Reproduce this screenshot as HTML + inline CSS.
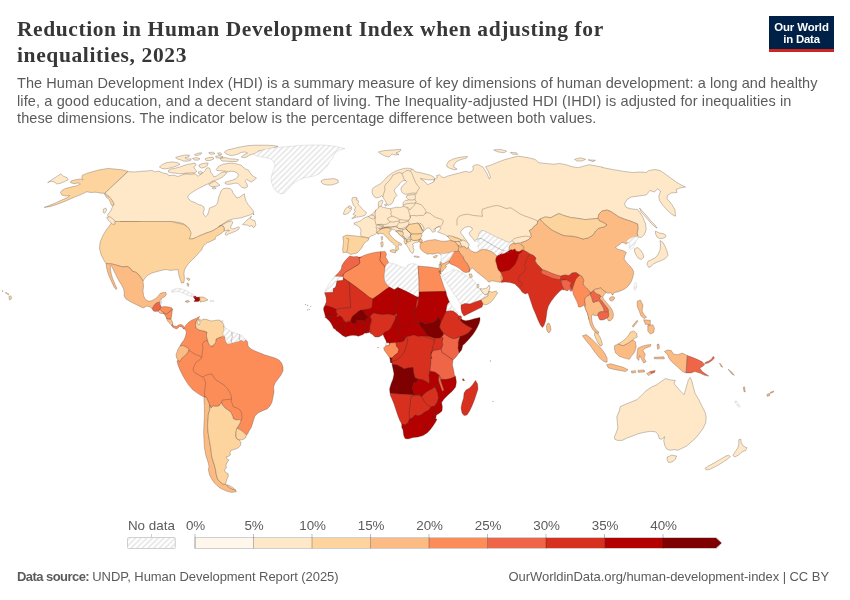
<!DOCTYPE html>
<html lang="en">
<head>
<meta charset="utf-8">
<title>Reduction in Human Development Index when adjusting for inequalities, 2023</title>
<style>
html,body{margin:0;padding:0;background:#fff;}
body{width:850px;height:600px;position:relative;overflow:hidden;font-family:"Liberation Sans",sans-serif;}
#title{position:absolute;left:17px;top:17px;margin:0;font-family:"Liberation Serif",serif;font-weight:bold;font-size:21.5px;line-height:25.5px;color:#373737;letter-spacing:0px;white-space:nowrap;}
#sub{position:absolute;left:17px;top:75px;margin:0;font-size:14.5px;line-height:17.64px;color:#5b5b5b;white-space:nowrap;}
#logo{position:absolute;left:769px;top:16px;width:65px;height:36px;padding-top:4.5px;box-sizing:border-box;background:#002147;color:#fff;text-align:center;font-weight:bold;font-size:11.4px;line-height:12.1px;white-space:nowrap;}
#logo .bar{position:absolute;left:0;bottom:0;width:100%;height:2.8px;background:#ce261e;}
#l1{letter-spacing:-0.1px}#l2{letter-spacing:-0.2px}
#map{position:absolute;left:0;top:0;width:850px;height:600px;}
.leg{position:absolute;width:80px;text-align:center;font-size:13.4px;color:#5b5b5b;top:518px;white-space:nowrap;}
#foot-l{position:absolute;left:17px;top:569px;font-size:13px;color:#5b5b5b;white-space:nowrap;}
#foot-r{position:absolute;right:21px;top:569px;font-size:13px;color:#5b5b5b;white-space:nowrap;}
#t1{letter-spacing:0.58px}#t2{letter-spacing:0.62px}
#s1{letter-spacing:0.073px}#s2{letter-spacing:0.119px}#s3{letter-spacing:0.107px}
#f1{letter-spacing:-0.55px}#f2{letter-spacing:-0.055px;margin-left:-0.5px}#f3{letter-spacing:-0.054px}
</style>
</head>
<body>
<svg id="map" width="850" height="600" viewBox="0 0 850 600">
<defs>
<pattern id="hatch" patternUnits="userSpaceOnUse" width="5.66" height="5.66">
<rect width="5.66" height="5.66" fill="#fff"/>
<path d="M-1,1L1,-1M-0.5,6.16L6.16,-0.5M4.66,6.66L6.66,4.66" stroke="#e2e2e2" stroke-width="1.35" fill="none"/>
</pattern>
</defs>
<!--MAPSTART-->
<g id="countries" stroke="#3f3028" stroke-opacity="0.55" stroke-width="0.5" stroke-linejoin="round">
<path d="M349.7,256L353.3,256.8L357.5,256.4L363.2,255.7L368.1,254L373.1,252.8L377.3,252.1L380.9,251.7L385.1,251.4L386.6,254.3L385.6,257.1L387.3,259.9L388.7,262.8L392.9,263.5L397.2,264.9L401.4,267L405.7,268.4L407.8,264.9L412.1,263.5L416.3,264.2L418.1,266.3L422.7,266.7L428.3,267.3L434,268.1L424,266.6L430,267L436,268L440,268.6L441,274L439.6,272L439,271L440,275L442,281L444,287L446,291.4L446.6,295L447.9,298.3L449.2,301.7L449.6,302.1L450.8,304.2L452.5,306.7L454.6,309.2L456.7,311.7L458.8,313.8L460.4,315.8L461.7,317.1L461.2,318.8L462.9,320L465.8,320.8L470,320L474.2,318.8L477.5,317.9L480,317.5L480,320L479.2,323.3L477.5,327.1L475.4,330.8L472.9,334.6L470,337.9L467.1,341.2L464.2,344.2L462.9,345L461.6,350L459,353L456,357L453,360L452.4,365L453.6,370L454.4,375L453.6,364L453,369L454.4,374L455.6,376.4L456.4,382L455.6,387L452.4,391L448,395L444,399L441.6,402.4L442.4,407L442,411L439,413.6L436.4,415L435.6,419L437,419L435.6,422L433,426L430,430L427,433L423,435.6L418,437L413,437.6L408,439L405,438.4L403.6,435L403,430L401.6,427L400,421L398,416L396,410L394,404L392,399L390.4,395.6L390,393L389.6,389L391,384L393,379L394,374L393,369L392,364.4L390,359L392.4,360.6L389,357L387,354L384.4,350.6L383.6,348L385.6,346L385.6,343L385.6,340L383.6,336L383,334L382,335L379,337L375,337L372.4,334.6L370,333L367.6,334L369.1,332.1L365.9,333.2L363.1,334.6L360.3,335.6L358.2,336.3L356.4,335.6L353.2,335.3L350.4,335.6L347.6,336.3L345.5,337.1L342.6,335.6L340.2,333.5L337.7,331.4L335.6,329.6L333.5,328.2L332.4,325.8L331,323.3L329.6,321.2L327.8,319.4L325.7,317.6L323.5,309.5L323.8,307.4L324.9,305.5L326.3,301.7L326.1,297.5L325.2,294.6L324.6,292.8L325.6,289.7L327.8,286.1L329.9,282.6L332,279.8L334.8,276.6L336.3,274.8L338.8,272.4L341.2,269.1L341.9,265.6L344,262L346.9,258.8Z" fill="#d7301f" stroke="#fff" stroke-opacity="1" stroke-width="1.4"/>
<path d="M771.3,393.3L770.8,392.4L768.9,393.3L769.3,394.2Z" fill="#fdbb84" stroke="none"/>
<path d="M420.7,244.2L421.9,243.1L422.4,241.6L419.6,242.7Z" fill="#fdbb84" stroke="none"/>
<path d="M368.9,332L368,332.9L370.2,332.3L370.2,327L372.3,318.9L370.6,317.3L371,319.8L370.6,322.5L369.6,325.4Z" fill="#d7301f" stroke="none"/>
<path d="M383.4,334.4L383.1,333.5L381,335.7L381.2,335.9Z" fill="#d7301f" stroke="none"/>
<path d="M387.1,343.2L388.8,343.2L388.8,346.5L389,346.6L389.8,343.2L391,343.2L391,342.9L386.6,342.3Z" fill="#b30000" stroke="none"/>
<path d="M385.4,346.3L390.1,345.4L390.1,345.2L385.4,345.2Z" fill="#fc8d59" stroke="none"/>
<path d="M389.8,359.3L391.4,359.8L391.7,363.2L392.3,363.4L392.6,360.6L392.2,357.8L389.5,356.9Z" fill="#7f0000" stroke="none"/>
<path d="M449.2,301.1L447.6,304.3L447.7,304.3L449.7,302.3Z" fill="#b30000" stroke="none"/>
<path d="M439.9,273.2L441.6,275.8L441.2,273.8L438.6,269.9L439.4,273.5Z" fill="#fc8d59" stroke="none"/>
<path d="M469.2,272.2L469.5,271.6L470,268.9L467.8,272.4Z" fill="#fc8d59" stroke="none"/>
<path d="M498.9,282.3L501.2,282.6L503.3,279L502.2,274.9L501.4,273.4L500.7,277.2L501.4,280.6Z" fill="#fdbb84" stroke="none"/>
<path d="M565.6,290.5L562.6,285.9L562.4,286L563.7,289.8Z" fill="#ef6548" stroke="none"/>
<path d="M572.1,290.2L572.3,290.9L574.9,282.3L574.7,282.3L573.8,283.9L571.4,291.1L571.6,291.1Z" fill="#fc8d59" stroke="none"/>
<path d="M599.5,346.5L599.1,346.7L599.6,347.3L601.4,346L597.3,342Z" fill="#fdd49e" stroke="none"/>
<path d="M386.6,203.8L385.9,204L386.7,205.8L388.2,204.9L386.2,202.7L386,202.9Z" fill="#fee8c8" stroke="none"/>
<path d="M406.3,196L408.4,195.4L414.2,194.8L416.8,193.8L415.1,192.7L411.6,192.9L408.3,193.5L406.9,193.8Z" fill="#fee8c8" stroke="none"/>
<path d="M498.4,255.9L502.9,254.1L502.8,253.7L501,254.3L503.4,252.1L503.2,251.9L499.4,254.3L496.5,255.8L496,258.3Z" fill="#b30000" stroke="none"/>
<path d="M508.4,251.8L505.3,252.8L505.4,253.2L510.4,251.9L513.4,249.9L511.6,249.3L509.3,250.1L506.5,251.4Z" fill="#b30000" stroke="none"/>
<path d="M477.2,252.2L478.4,251.7L481.3,250L481.1,249.6L478.2,251.1Z" fill="#fdbb84" stroke="none"/>
<path d="M420.3,238.4L418.9,239.8L421.7,239.1L420.5,237.9Z" fill="#fdbb84" stroke="none"/>
<path d="M424.9,335.9L420.9,335.7L420.8,336L427.1,337.5L427.2,337.2L424.8,336.2Z" fill="#d7301f" stroke="none"/>
<path d="M433.3,338.7L433.9,344.2L434,344.2L435.1,338.9Z" fill="#d7301f" stroke="none"/>
<path d="M421.4,178.4L419.6,178.1L421.5,179.8L424.3,181.2L424.4,181Z" fill="#fee8c8" stroke="none"/>
<path d="M415.6,309L416.3,304.8L416.2,304.8L413.9,309.4L413.2,313.1L414.1,315.7L415.2,310.1L415.8,309.1Z" fill="#b30000" stroke="none"/>
<path d="M419.1,298L419.4,295.9L419.4,295.9L418.2,297.9Z" fill="#b30000" stroke="none"/>
<path d="M393.6,314.9L395.4,314.4L390.8,313.5L380.6,314.3L380.6,314.6L383,314.8L388,314.2L394.1,315.5L394.2,315.1Z" fill="#b30000" stroke="none"/>
<path d="M395.6,315.6L397.7,321L396.8,325L397.8,329.4L398.2,329.3L397.4,324.4L398.8,320.8L397.7,317.7L397.5,316.2Z" fill="#b30000" stroke="none"/>
<path d="M336.5,312.3L336.5,309.4L335.7,309L335.3,310.6L335.7,313.1L336.8,316.4L336.9,314.2L338.5,315.3Z" fill="#b30000" stroke="none"/>
<path d="M339.9,316.2L337.9,316.7L342.4,317.3L339.6,315.5L339.3,315.9Z" fill="#b30000" stroke="none"/>
<path d="M476.4,284.6L476.8,285.1L477.4,288.4L477.9,288.3L477.2,284.3Z" fill="#fee8c8" stroke="none"/>
<path d="M470.9,277L469.7,277.2L469.9,278L472.9,279.2Z" fill="#fdd49e" stroke="none"/>
<path d="M395.8,250.3L395.2,252.4L397,251L396.8,250.7Z" fill="#fdd49e" stroke="none"/>
<path d="M647.6,326.2L650.5,325.5L650.5,324.5L647.6,324.2Z" fill="#fdbb84" stroke="none"/>
<path d="M463.6,380.8L464,380.4L464.6,381.1L464.2,379.7L462.9,380.1Z" fill="#d7301f" stroke="none"/>
<path d="M253.9,154.3L257.1,152.7L257,152.4L253.4,153.6Z" fill="#fee8c8" stroke="none"/>
<path d="M277.2,146.4L272.4,148L272.5,148.2L277.4,147.6Z" fill="#fee8c8" stroke="none"/>
<path d="M161.6,311.3L163.4,313.9L164.4,313.9L166.7,314.7L164.5,312.8Z" fill="#fc8d59" stroke="none"/>
<path d="M166.2,318.3L168.3,319.4L171.4,319.4L171.3,318.8L168.5,318.8L166.6,317.4L165.7,316.2Z" fill="#fc8d59" stroke="none"/>
<path d="M172.6,324L171.3,325.6L172.6,327.3Z" fill="#fc8d59" stroke="none"/>
<path d="M241.1,440.1L236.8,438.7L236.7,438.9L239,440.4Z" fill="#fdd49e" stroke="none"/>
<path d="M223.5,326.1L223.3,327.2L225.2,327.2Z" fill="#fdd49e" stroke="none"/>
<path d="M161.2,304.2L159.9,304.2L159.7,305.1L160.3,305.7Z" fill="#ef6548" stroke="none"/>
<path d="M161.6,298.1L159.7,300.5L161.9,299.8Z" fill="#fdbb84" stroke="none"/>
<path d="M227.7,230.8L226.5,231.8L230.2,230.5L228,229.7L224.3,230.9L224.4,231.2Z" fill="#fee8c8" stroke="none"/>
<path d="M230.1,219.6L225.9,221.6L217.5,227.2L217.7,227.5L226.6,222.7L229.1,221.7L232.1,221.1Z" fill="#fee8c8" stroke="none"/>
<path d="M252.7,214.1L253.1,213.2L249.9,214.8L250.1,215.1Z" fill="#fee8c8" stroke="none"/>
<path d="M208.8,185.1L212,182.7L215.5,181.3L214.1,180.3L213.7,180.4L207.2,183.9Z" fill="#fee8c8" stroke="none"/>
<path d="M224.7,171.5L223.6,171.8L226.9,173.1L228.1,171.6L225.7,171L221.5,170.7L221.5,171.1Z" fill="#fee8c8" stroke="none"/>
<path d="M200.4,174.2L199.6,174.8L199.8,175.2L203.4,172.8L202.4,172.2L200,174.2Z" fill="#fee8c8" stroke="none"/>
<path d="M184.7,173.6L180.7,175.2L180.8,175.5L186.3,174L190.6,174.6L195.6,173.9L194.8,173.2L195.7,172.5L191.2,172.5L181.8,173.3L181.8,173.8Z" fill="#fee8c8" stroke="none"/>
<path d="M127.4,171.3L112.9,185.3L113.2,185.7L128.6,171.4Z" fill="#fee8c8" stroke="none"/>
<path d="M220,157.9L219.2,157.8L219.9,158.8L225.6,157.6L223,156.6Z" fill="#fee8c8" stroke="none"/>
<path d="M218.4,154.7L219.4,156L220.9,155.7Z" fill="#fee8c8" stroke="none"/>
<path d="M171.5,167.4L168.8,168.3L168.9,168.5L171.7,168.1Z" fill="#fee8c8" stroke="none"/>
<path d="M193.8,297.9L194.1,297.8L197.3,297.5L195,295.7L193.2,295.9Z" fill="#b30000" stroke="none"/>
<path d="M194.4,300.4L197.9,299.4L195.5,298.8Z" fill="#b30000" stroke="none"/>
<path d="M6.6,293L6.4,293.7L7.8,294.1L7.9,293.4Z" fill="#fdd49e" stroke="none"/>
<path d="M637.9,235.8L635.5,236.6L635.6,236.9L638.1,236.5Z" fill="#fdbb84" stroke="none"/>
<path d="M589.7,292.3L590.3,294.8L592.2,291.7Z" fill="#ef6548" stroke="none"/>
<path d="M578.5,276.6L579.6,275.7L582.6,276.9L582.7,276.6L579.5,274.7Z" fill="#fdbb84" stroke="none"/>
<path d="M543.2,270.3L547,271.5L547.2,271.2L545.1,270.2L542.3,269.3L541.3,271L541.6,271.4Z" fill="#ef6548" stroke="none"/>
<path d="M523.3,250.5L526.9,252.2L527.1,251.8L523.4,249.9Z" fill="#d7301f" stroke="none"/>
<path d="M520.5,243.4L520.2,243.6L523.5,247.4L523.9,246.7Z" fill="#fdbb84" stroke="none"/>
<path d="M521.8,242.2L517,243.2L521.2,244.5Z" fill="#fee8c8" stroke="none"/>
<path d="M514.7,249.4L516.1,251.5L518,251.8L518.1,251.4L516.7,251.1L515.5,249Z" fill="#fdbb84" stroke="none"/>
<path d="M513.7,241.4L511.8,243.8L515.6,244.2Z" fill="#fdbb84" stroke="none"/>
<path d="M460.1,239.3L461.1,241.1L463.5,240.2Z" fill="#fee8c8" stroke="none"/>
<path d="M459.4,316.3L457,313.7L456.7,314L458.7,316.5Z" fill="#d7301f" stroke="none"/>
<path d="M453,236.7L452.9,236.9L454.9,237.7L458.8,238.8L458.9,238.4L454.2,236.9Z" fill="#fee8c8" stroke="none"/>
<path d="M446.1,311L445.4,312.5L449.5,311.1L449.5,311Z" fill="#d7301f" stroke="none"/>
<path d="M438.5,373.9L440.3,379.7L441,379.8L447.1,379.8L447.1,379.5L442.1,378.8Z" fill="#ef6548" stroke="none"/>
<path d="M442.3,345L440.4,349.9L440.7,350L443.3,345L442,340.5L441.7,340.6Z" fill="#ef6548" stroke="none"/>
<path d="M440.7,264L440.2,264.1L440.7,267.4L442.8,263.7L441.4,262Z" fill="#fdbb84" stroke="none"/>
<path d="M439.3,374.9L438.2,374.1L438.7,378.2L438.9,378.2Z" fill="#b30000" stroke="none"/>
<path d="M431.8,352L432.9,351.5L433.9,350.7L432.3,345.8Z" fill="#d7301f" stroke="none"/>
<path d="M421.6,397.3L424.8,393.4L419.5,395.5Z" fill="#b30000" stroke="none"/>
<path d="M416,320.1L415.9,320.2L419.8,323.9L420,323.7L417.2,319.9L413.9,314.4L413.7,314.4L414.7,317.4Z" fill="#b30000" stroke="none"/>
<path d="M418.1,269.8L418.8,288.5L419.2,288.5L419.2,279L418.5,269.8Z" fill="#fc8d59" stroke="none"/>
<path d="M416.4,395L413.2,392.4L413.8,395.3Z" fill="#b30000" stroke="none"/>
<path d="M404,339.6L401.4,337L401.2,337.2L404,341.5L406.7,336.1L406.4,336Z" fill="#b30000" stroke="none"/>
<path d="M397.8,329.3L399.4,328.8L397.6,328.3Z" fill="#b30000" stroke="none"/>
<path d="M385.4,266.9L383.6,264.5L385.2,270.3L385.4,270.3Z" fill="#fc8d59" stroke="none"/>
<path d="M362.9,310.4L365.4,315L367.2,316.8L370.9,317.5L370.3,317L371.2,315.2L374,313.3L378,314.2L382.3,314.8L382.4,314.4L377.4,313.2L373.7,312.1L371.5,314.3L369.5,315.6L367.6,314.3L365.5,312.2L364,309.5L361.7,310.2Z" fill="#b30000" stroke="none"/>
<path d="M345.9,321.7L344.7,320.4L342.8,317.6L341,316.3L342.4,318.8L343.3,321L345.8,322.9L350.3,321.4L351.6,322.7L351,320.5L351.4,319.3Z" fill="#d7301f" stroke="none"/>
<path d="M341.1,276L337.2,276.6L337.2,276.8L343.6,277.2L343.6,274.3Z" fill="#ef6548" stroke="none"/>
<path d="M343.6,275.9L343.2,275.9L342.8,281.1L343.2,281.2Z" fill="#d7301f" stroke="none"/>
<path d="M339.4,326.5L338.8,324.6L337.5,328.4Z" fill="#b30000" stroke="none"/>
<path d="M324.6,317.7L324.7,318.1L327.8,317.5L331,318L329.3,316.3Z" fill="#b30000" stroke="none"/>
<path d="M263.6,150.2L263.5,149.8L257.8,150.8L257.2,152.7L260.1,151.2Z" fill="#fee8c8" stroke="none"/>
<path d="M236.2,436.4L236.2,431L235.9,430.9L235.4,436L236.2,438.6L237.4,439.3Z" fill="#fdd49e" stroke="none"/>
<path d="M214.3,344.4L210.7,346.3L212.5,347.3Z" fill="#fc8d59" stroke="none"/>
<path d="M183.7,224.7L188.1,227.8L187.2,226.2L184.1,223.8L179,222.2L171.2,221.6L171.2,221.7L176.9,223.2Z" fill="#fee8c8" stroke="none"/>
<path d="M173.4,309.2L173.1,308.9L169.9,310.8L167.5,313.2L167.7,313.4Z" fill="#fc8d59" stroke="none"/>
<path d="M166.4,314.7L168.8,312.6L168.5,312.3L165.6,314.4Z" fill="#fc8d59" stroke="none"/>
<path d="M160.6,298.9L160.3,298.9L159.7,302.6L160.6,302.6Z" fill="#fdbb84" stroke="none"/>
<path d="M157.1,311.6L157.3,311.8L160,309.7L160.9,310.7L160.1,308.6Z" fill="#ef6548" stroke="none"/>
<path d="M127.8,171.3L122.1,169.8L115,169.1L107.9,168.4L100.8,169.6L93.8,171.3L86.7,173.4L82.4,175.2L81.7,177.6L83.1,179.8L80.3,179L75.3,179.8L71.1,180.9L70.4,182.6L73.9,183.7L78.9,182.9L80.3,184L76.8,185.7L71.1,187.1L65.4,188.5L61.9,190.4L60.5,192.5L61.9,195.1L65.4,196L69.7,195.6L67.5,197.5L62.6,199.6L56.9,202.4L49.8,205.3L44.2,207.4L49.8,206.7L56.9,204.5L64,201.7L70.4,198.9L75.3,196.8L81,194.6L86.7,191.8L90.9,192.5L95.9,192.2L100.8,193.2L104.4,193.2L107.2,196L110.8,196.8L112.2,199.6L114.3,203.8L112.2,206L110.8,203.8L109.3,199.6L106.5,197.5L104.4,193.9Z" fill="#fdd49e"/>
<path d="M47.7,182.6L51.3,180L56.2,176.9L60.9,173.8L63.3,176.2L67.1,177.6L68.3,179.8L64.7,181.5L60.5,183.3L56.9,184L54.1,181.9L51.3,181.2Z" fill="#fee8c8"/>
<path d="M128,171.6L134,172L140,171.4L146,171L152,170.4L155,171.9L158.8,171.2L162.5,172.8L167.5,174L168.8,175.6L173.8,175.2L178.1,176.5L181.9,175L186.2,173.8L190.6,174.4L195,173.8L198.1,176.2L200.6,174.4L203.1,172.8L205,170.6L206.2,168.5L208.1,167.5L210,168.8L210.6,171.9L212.5,174.4L213.8,176.9L216.2,176.2L218.8,174.4L221.2,172.8L224.4,171.9L226.9,172.8L225,175L222.5,176.9L219.4,178.8L216.2,180L213.8,180.6L211.2,181.9L208.1,183.8L205,185.2L201.2,187.2L197.5,189L193.8,191.2L190.6,193.5L188.1,195.6L187.8,197.5L189.4,199.8L191.2,201.2L195,202.5L198.1,204.4L201.2,205.2L203.8,206.9L204.4,209.4L203.1,212.5L203.8,215L205.6,216.5L207.5,215L208.8,211.2L209.4,208.1L212.5,206.9L215.6,205.6L217.5,203.1L218.1,200L218.8,196.9L220,193.8L221.2,190.6L223.1,188.8L226.2,188.1L230,188.5L231.9,190L233.1,193.1L235,195.6L236.9,198.1L240,196.9L242.5,195L244.4,193.8L245,197.5L246,201.2L248.1,204.4L250.6,207.5L253.1,210.6L253.8,215L253,213.5L251,214.5L248.5,215.5L246,216.2L243,217.2L240,218L237,218.5L234,218.8L231,219.5L228.5,220.5L226,221.8L224,223.2L222,224.5L220,225.8L218.5,226.8L221.5,225.2L224,224L226.5,222.5L229,221.5L231.5,221L232.8,222L232.2,224L231,226L230.5,228L232,229L234.5,228.5L236.5,227.8L238.5,226.8L239.5,227.5L238.5,229.5L236,231L233.5,232L231,233L228.5,234L226.5,235.2L225.2,234.5L225.8,232.5L227.5,231.2L229.5,230.5L228,230L225.5,230.8L224,231L224.2,228.5L223.5,226.5L221.5,225.5L220,226.2L218.5,227.2L216.5,228.5L214,230L211,231.5L208,232.5L205,233.5L202.5,234.8L200,235.5L198,237L194,238.4L190,239.4L189,238L190,234L189,230L187,226.4L184,224L179,222.4L173,221.8L172,221.8L120,221.8L140,222.2L112.5,222.2L111.2,220.5L108.8,218L107.5,215L109.5,212.5L111.2,210L112.5,206.5L114.2,204.5L112.8,201.2L110.2,197.8L107.5,194.8L105,193Z" fill="#fee8c8"/>
<path d="M242.5,224.5L244.5,222.5L247,220L249.5,218L251.5,216.2L250.5,218.5L252,220L254.5,220.5L255.5,222.5L255.8,224.5L254.5,227L253,227.5L252,225.5L250.5,226L249,226.5L247.5,225L245,225Z" fill="#fee8c8"/>
<path d="M159.4,166.9L162.5,164.4L166.9,162.5L172.5,161.9L178.1,162.8L180,164.4L177.5,165.6L173.8,166.9L170,168.1L165.6,168.8L161.9,168.5Z" fill="#fee8c8"/>
<path d="M168.1,170.6L171.2,169L175.6,168.1L180,166.9L183.8,165.6L187.5,164.4L191.2,163.8L195,163.1L196.2,165L193.8,166.9L195,169.4L196.9,171.2L195,172.8L191.2,172.8L186.9,173.1L182.5,173.5L178.8,173.8L175,173.1L171.2,172.8L168.8,172.2Z" fill="#fee8c8"/>
<path d="M198.8,165L201.9,163.8L205,163.1L208.1,163.1L207.5,165.6L205,167.2L201.9,168.1L199.4,166.9Z" fill="#fee8c8"/>
<path d="M198.1,172.2L200.6,171.2L202.5,172.5L200.6,174L198.8,173.8Z" fill="#fee8c8"/>
<path d="M175.6,157.5L179.4,156.2L184.4,155.2L189.4,155L188.8,156.9L185,157.8L186.9,159L191.2,158.8L190.6,160.6L186.9,161.2L183.1,161L180.6,159.8L177.5,159Z" fill="#fee8c8"/>
<path d="M194.4,154.8L198.1,153.1L201.9,152.8L200.6,154.4L196.9,155.6Z" fill="#fee8c8"/>
<path d="M192.5,158.5L196.2,157.5L200,158.8L198.1,160.2L194.4,160Z" fill="#fee8c8"/>
<path d="M208.8,152.5L212.5,152.2L215,153.5L211.9,154.4L209.4,153.8Z" fill="#fee8c8"/>
<path d="M205,158.8L208.8,157.5L213.1,157.2L213.8,159L210,160.6L206.2,160.6Z" fill="#fee8c8"/>
<path d="M215.6,156.2L220,155.6L223.1,156.9L220,158.1L216.2,157.8Z" fill="#fee8c8"/>
<path d="M217.5,153.1L220.6,152.8L221.9,154.4L218.8,154.8Z" fill="#fee8c8"/>
<path d="M220,158.5L225,157.5L230,158.8L235,159L238.8,159.8L236.9,161.5L231.2,161.5L226.2,161.2L221.9,161Z" fill="#fee8c8"/>
<path d="M224.4,151.9L227.5,150L232.5,148.8L236.2,147.8L242.5,146.5L248.8,145.6L255,145.2L261,145.2L267.5,145.2L273.8,145.6L278,146.4L272,148.4L264,150L258,151L257.5,152.5L253.8,153.8L250,155L246.9,156.9L243.8,157.8L241.2,156.9L243.8,155L247.5,153.1L245,151.9L241.2,152.5L238.1,154L235,155L231.2,155.6L228.1,154.8L225.6,153.5Z" fill="#fee8c8"/>
<path d="M216.2,169.4L218.8,166.2L222.5,164.4L226.9,163.5L231.2,163.1L235,163.5L238.1,164.4L241.2,165.2L243.1,167.2L245.6,169L248.5,170.2L250.2,173.1L252.8,176L256.5,178.1L254,180.2L251.2,182L248.5,180.6L246.9,179.4L245.2,181.2L247,184L247.5,186.8L245,188.2L241.9,187.5L239.8,185.2L237.8,183.5L235,183.1L231.5,184L228.1,184.4L225.2,183.8L225.2,182.2L228.8,181.2L232.2,180.2L235.2,179L237.5,177.2L238.5,174.8L236.9,172.8L234,171.5L230.6,171.2L228.1,171.9L225.6,171.2L222.5,171L219.4,170.6L216.9,170.6Z" fill="#fee8c8"/>
<path d="M208.8,184.8L211.9,182.5L215,181.2L217.5,183.1L220,185.2L217.5,186.2L214.4,186.5L211.2,186.5Z" fill="#fee8c8"/>
<path d="M211.9,188.1L214.4,187.2L216.2,188.1L213.8,189Z" fill="#fee8c8"/>
<path d="M112.5,221.5L140,221.5L171.2,221.5L177,223L183.8,224.5L188.8,228L191.2,233L189.5,239L193,238.8L200,235.5L202.5,234.8L205,233.5L208,232.5L211,231.5L214,230L216.5,228.5L218.5,227.2L220,226.2L221.5,225.5L223.5,226.5L224.2,228.5L224,231L222.5,232.5L220.5,234L218.5,235.2L216.5,236.2L215,237.5L215.5,239L213.5,240L211.5,241L209.5,242L207.5,242.5L205.5,244L204,245.5L202.5,247.5L201.5,250L200,251.6L197,255L193,259L189,263L186,267L184.4,270L184,273.6L184.4,278L184,282.4L181.6,283.2L180.4,280L179.2,276.4L178.4,272.4L178,269.6L174,270L170,270.4L167,269.6L163,270L157,271.6L152,273L148,275L145,278L143,281L141,278L139,275L136,272.4L132,271L130,268L127,266.4L123,267L118,265.6L112,264L106,263.6L103.8,260L101.2,255L99.5,248.8L100,242.5L102.5,236.2L106.2,230L110,225Z" fill="#fdd49e"/>
<path d="M106,263.6L106.6,268L107.6,272L109,276L110.8,280L112.6,284L114.4,287.6L116,289.6L116.8,288.4L115.6,285.6L114,282L112.6,278.4L111.4,274.4L110.6,270.4L110.4,267L111.4,265.6L113,269L115,273L117,277L119,281L121.6,285L123.6,289L124.4,293L124,296L126,299L130,301.6L135,304L140,306.4L143,308L147,306L150,307L152.4,309L153.6,306L156,303.6L158,302.4L160,302.4L160.4,300L162,298L164.4,297L166.4,294.4L166,292.4L163,292.4L160,293.6L158,296.4L155,299L151,301L148,301L145,299L143.6,295.6L143,291L143.6,286L143,281L141,278L139,275L136,272.4L132,271L130,268L127,266.4L123,267L118,265.6L112,264Z" fill="#fdbb84"/>
<path d="M152.4,309L153.6,306L155.6,303.6L158,302.4L160.4,302.4L160,305L161.6,307L160,309L158,311L155,311.6L153,310.6Z" fill="#ef6548"/>
<path d="M160.4,300L161.6,299.6L162,302.4L160.8,304.4L160,304.4L160.4,302.4Z" fill="url(#hatch)" stroke="#c4c4c4" stroke-opacity="1" stroke-width="0.4"/>
<path d="M161.6,307L165,306.6L169,307L172,308L172.4,309.6L170,311L168,313L166,314.4L164.4,313L162.4,312L160.4,310L160,309Z" fill="#fc8d59"/>
<path d="M158,311L160,309.4L162.4,312L163.6,313.6L161,313.6L159,312.4Z" fill="#fdbb84"/>
<path d="M164.4,313.6L166.4,314.4L168.4,312.6L170.4,311L172.4,309.6L172,313L171.6,316.4L171,319L168.4,319L166.4,317.6L165,315.6Z" fill="#fc8d59"/>
<path d="M166.4,318L168.4,319.2L171,319.2L172.4,321.6L173,324L171.6,325.6L170,323.6L168.4,322L167,320Z" fill="#fdbb84"/>
<path d="M172.4,324.4L174,326L176.4,326.4L178.4,325L181,324.4L183,325.6L184.4,327.6L183.6,329L182,327L179.6,326.4L178,328L176.4,329L174.4,328L172.4,327Z" fill="#fc8d59"/>
<path d="M171,291L175,289L180,288.4L185,290L189,292.4L193,294.4L195,296L191,296.4L187,295L183,293L179,291.6L175,291.6L172,292.4Z" fill="url(#hatch)" stroke="#c4c4c4" stroke-opacity="1" stroke-width="0.4"/>
<path d="M194,297.6L199.6,297L200,300L198.4,301.6L194,301.6L195,300L197,299.4L194.4,298.8Z" fill="#b30000"/>
<path d="M199.6,297L203,297L206,298.4L208,300L205,301.2L202,301.6L200,302L200,300Z" fill="#fdd49e"/>
<path d="M185.6,301L188.4,300.4L189.6,301.6L187.6,302.4L185.6,302Z" fill="#fdbb84"/>
<path d="M210,300.4L213.6,300.4L213.6,301.6L210,301.6Z" fill="url(#hatch)" stroke="#c4c4c4" stroke-opacity="1" stroke-width="0.4"/>
<path d="M186.4,278.4L189,278L190,280L188.4,280.4Z" fill="#fdd49e"/>
<path d="M187,283L189,284L188.4,286.4L187.2,285.6Z" fill="#fdd49e"/>
<path d="M220,321L223,320.4L223,322.4L220.4,323Z" fill="url(#hatch)" stroke="#c4c4c4" stroke-opacity="1" stroke-width="0.4"/>
<path d="M106.7,217.5L110,216.7L115,220.8L115,224.2L112.5,224.2L108.7,220.8Z" fill="#fee8c8"/>
<path d="M103.3,209.2L105.8,208L106.7,210L104.7,213.3L103.3,212.5Z" fill="#fee8c8"/>
<path d="M9.2,296.2L10.6,295.8L11.8,297.5L11,299.2L9.6,300L9,298Z" fill="#fdd49e"/>
<path d="M7.6,293.6L8.8,294L8.6,294.8L7.5,294.4Z" fill="#fdd49e"/>
<path d="M5.6,292.4L6.9,292.8L6.7,293.5L5.5,293.1Z" fill="#fdd49e"/>
<path d="M2.2,290.7L3,290.8L2.9,291.4L2.1,291.3Z" fill="#fdd49e"/>
<path d="M184.4,327.6L186,325L189,322L192,320L196,318.4L199.6,316.4L198.4,319L196.4,321L195.6,324.4L196,328L199,330L204,331L207,332L206.4,336L207.6,340L208.4,343L210,345.6L212.4,347L213.6,345L215.6,342.4L216,339L219,337.6L222.4,336.4L225,337L225.6,341L227.6,344L230,343.6L234,342.4L238,341.6L241,340L244,341.6L245.6,339.6L247.6,342L248,346L251,349L255,351L260,353L265,355L270,356.4L275,358L279,360L281.6,363L283,367L283,371L281,375L278,379L275,383L273.6,387L274,392L273,397L272,402L270,406L267,409L262,411L258,413L255,416L253.6,420L252.4,424L251,428L249,431L247.6,434L246,435.6L243,433L240,430.4L237,428L239,425L241,421L239.6,419.6L236.4,420L233.6,419L232.4,415.6L231,412.4L228,410L225,408L222.4,405L221.6,402.4L219,406L216,406.4L213,406L211,408L209.6,405L208,401L206,397L204,397L202,396L198,393.6L193,390L189,385.6L186,381L183,376L180,370L178,365L177,361L178,360L180,361.6L181.6,358.4L184.4,356L187,353.6L188.4,351L189,349L186,347L183,345.6L180,346L181.6,343L184,340L185.6,336L186.4,332L185,329L183.6,329Z" fill="#fc8d59"/>
<path d="M207.6,340L204,341.6L202.4,344L203,348L202.4,352L201.6,358L200,356L197,355L193,353L190,351L188.4,350" fill="none"/>
<path d="M201.6,358L199.6,360L196,362.4L194,366.4L193,370L195,373L199,375L202.4,377L204.4,379L205.6,383L205,388L204.4,393L205,397" fill="none"/>
<path d="M202.4,377L208,374.4L212,374L213.6,377L216,380L220,382.4L224,385L227,388L229,391L231,395L231.6,399L231,401L232.4,404L233.6,407L237,408L240,410L241.6,413L242,418L241,421" fill="none"/>
<path d="M231.6,399L227,399.6L222.4,400L221.6,402.4" fill="none"/>
<path d="M180,346L183,345.6L186,347L189,349L188.4,351L187,353.6L184.4,356L181.6,358.4L180,361.6L178,360L176.6,358L176,355L177,352L178,349Z" fill="#fdbb84"/>
<path d="M196.4,321L198.4,319L202,320.4L203,319L207,319.6L211,321L215,320.4L219,320L222,322L224,325L223.6,327L224.4,327L223.6,331L223,334L225,337L222.4,336.4L219,337.6L216,339L215.6,342.4L213.6,345L211,346.4L210,345.6L208.4,343L207.6,340L206.4,336L207,332L204,331L199,330L196,328L195.6,324.4Z" fill="#fdd49e"/>
<path d="M224.4,327L228,329.6L232,332L237,333.6L241,335L243.6,337L245.6,339.6L244,341.6L241,340L238,341.6L234,342.4L230,343.6L227.6,344L225.6,341L225,337L223,334L223.6,331Z" fill="url(#hatch)" stroke="#c4c4c4" stroke-opacity="1" stroke-width="0.4"/>
<path d="M231.6,332L232.4,337L231,340L232,343" fill="none"/>
<path d="M239.6,334.4L239,338L240,340.4" fill="none"/>
<path d="M204,397L206,397L208,401L209.6,405L209.6,405L210,409L208.4,414L208,420L207.6,426L208,432L209,438L210,444L211,450L211.6,456L213,461L214.4,465L215.6,470L216.4,475L217.6,479L220,482L223,484L226,484.4L227,485L228.4,487L232,489L235.6,490L236.4,491.6L232,492.4L228,491.6L224,490L220,488L217,485.6L214,482.4L211.6,479L209.6,475L208.4,470L209,466L208,462L206,456L204.4,448L204,440L203.6,432L204,424L204.4,416L204.4,408L204,400Z" fill="#fdbb84"/>
<path d="M209.6,405L211,408L213,406L216,406.4L219,406L221.6,402.4L222.4,405L225,408L228,410L231,412.4L232.4,415.6L233.6,419L236.4,420L239.6,419.6L241,421L239,425L237,428L236,432L235.6,436L236.4,438.4L239,440L241,442.4L240.4,445.6L238,448L234,449.6L231,450.4L230,452.4L230.4,455L228.4,456.4L226,457L227,459L229,460L227,462.4L226,465L226.4,468L224.4,470L225.6,472.4L228,473.6L228.4,476L227,479L226,482L225.6,484.4L223,484L220,482L217.6,479L216.4,475L215.6,470L214.4,465L213,461L211.6,456L211,450L210,444L209,438L208,432L207.6,426L208,420L208.4,414L210,409Z" fill="#fdd49e"/>
<path d="M227,485L228.4,487L232,489L235.6,490L234,488.4L231,486.4L228.4,485Z" fill="#fdd49e"/>
<path d="M237,428L240,429.6L243.6,432L246.4,435L245.6,438L243,439.6L240,440L237,439L236,436.4L236,432Z" fill="#fdd49e"/>
<path d="M197.8,321.5L198.6,320.4L199.7,321L200,323L199.4,324.8L198.3,324.6L197.7,323Z" fill="#ffffff"/>
<path d="M254,154L260,151L268,148.6L277,147.4L288,146.6L300,145.4L312,145L324,145L333,146L340,147.4L345,148.6L340,150L336,152L334,155L333,158L330,161L328,165L325,168L322,171L319,174L314,176L309,177L304,178L299,180L294,183L290,186.6L287,190.6L284,193.4L281,194L277,192L274,188.6L272,184L271,179L272,174L274,169L275,165L273,161L270,158.6L265,157.4L259,156.6L255,155.4Z" fill="url(#hatch)" stroke="#c4c4c4" stroke-opacity="1" stroke-width="0.4"/>
<path d="M321,181L324,179.4L329,179L334,178.6L338,180L338.4,182.6L335,184L331,185L327,185L323,184L321.6,182.6Z" fill="#fee8c8"/>
<path d="M378.4,152L384,150.6L392,150L401,149.4L400,151.4L396,153L399,154.6L395,155L392,154L389,157L385,156L381,154Z" fill="#fee8c8"/>
<path d="M361.3,236.8L360.5,233.9L361,230.4L359.8,227.5L357,225.4L354.2,224.3L354.2,222.9L357.7,221.9L361.3,220.5L363.4,218.3L366.2,217.2L369,216.2L370.5,215.2L373.3,213.4L375.1,211L377.1,209.1L378.5,208.1L378.3,206.7L378.3,203.3L378.8,201.7L380.4,200.8L382.1,200L382.9,201.2L382.5,202.9L381.7,204.6L381.2,206.2L382.9,207.5L385.4,207.7L387.5,208.3L390,208.8L391.7,208.3L394.2,207.7L396.7,207.1L399.2,207.5L401.7,207.1L402.9,206.2L403.3,205L402.9,203.3L403.8,201.7L404.8,200.8L405.8,200L407.1,200.7L408.3,199.8L407.5,198.8L406.2,197.1L406.7,195.7L408.3,195.2L411.2,194.8L414.2,194.6L416.2,193.8L415,192.9L411.7,193.2L408.3,193.8L405.8,194.3L403.8,193.8L402.1,192.5L401.2,190.4L401,188.3L402.1,186.2L403.8,184.6L405.4,183.3L406.7,181.8L405.8,180.8L404.2,180.4L402.1,181.2L400.4,182.9L398.8,185L397.1,186.7L395.4,188.3L394.2,190.4L395,192.5L396.2,194.2L397.1,195.4L395.8,196.7L394.6,197.9L393.8,200L392.9,202.1L391.7,203.8L390,204.6L388.3,205.4L386.8,203.8L385.8,202.1L385,200.4L383.8,198.8L382.9,196.7L381.7,195.8L379.6,197.1L377.1,197.9L374.6,197.1L372.9,195L372.1,192.1L372.3,189.6L372.9,188.3L375,186.7L377.5,185.4L380.4,183.8L382.9,181.5L385.4,178.8L388.3,175.8L391.7,173.3L395.4,171.2L399.2,169.8L402.5,168.8L405.8,168.2L409.2,168.3L412.1,169L414.2,170.4L415,171.7L418.3,172.3L422.5,173.2L426.7,174.2L430.8,175.4L433.8,177.1L434.6,178.8L434.2,180.4L432.9,179.6L430,180L426.7,179.6L423.3,179L420.4,178.5L421.7,179.6L423.3,180.4L425,181.8L426.2,183.3L427.5,184.6L428.8,184.2L430.9,183.3L433.8,181.9L434.5,179L437.3,177.6L436.6,175.5L439.4,174.8L441.6,176.9L444.4,177.6L447.2,176.2L450.8,175.2L455,174.1L459.3,173L462.8,172L466.3,171.3L469.2,172.4L472,171.3L473.4,169.1L472.7,166.3L474.8,164.9L478.2,164.7L483.1,167.2L486.8,173.3L489.3,179L490.5,177.1L488.1,170.9L485.6,166.7L491.8,164.7L497.9,162.2L504.1,159.8L511.5,157.8L517.7,156.1L522.6,156.8L528.8,157.8L535,159.3L538.7,162.7L546.1,163.5L553.5,164.2L559.7,163.5L565.9,164.7L572,166.7L578.2,167.7L584.4,165.9L589.3,164.7L595.5,165.9L602.9,167.2L602.5,167.5L612.5,169.5L622.5,171.2L632.5,172.5L640,172L646.2,172.5L648.8,170.5L655,169.5L660,170.5L665,173.8L670,177.5L676.2,182L681.2,185L685.5,187L680,188L676.2,189.5L677,192.5L671.2,193L667.5,195.5L667,198.8L670,202L672.5,205.5L675,210L675.5,216.2L672,214.5L667.5,210.5L663,205.5L659.5,200.5L658.8,196.2L660.5,191.2L657.5,188.8L654.5,192L650,190.5L646.2,195L638.8,196L631.2,197L627,199.5L624.5,203.8L626.2,207.5L631.2,208.8L637.5,209.5L640,212.5L643,217.5L645.5,223.8L646.2,229.5L644.5,234.5L641.2,237.5L638,237L637,233L638,229L637.6,224L635,223L630,221L624,219L619,217L615,214.4L611,211.6L607,210L602,211L599,214L598,218.4L592,219L585,219.6L578,218.4L571,217.6L564,215.6L559,213.6L557,214.4L551,217.6L545,217L540,219L537.8,221L537.1,224.1L534.2,226.2L532.1,229L529.3,230.5L530.7,233.3L531.4,236.6L528.6,239.7L525,241.4L521.5,242.5L517.9,243.2L515.1,243.9L513.7,241.8L511.6,241.1L509.4,242.5L506.6,241.8L503,240L499.5,238.5L496,237.1L492.4,235.1L488.9,233.3L485.3,231.5L482.5,230.5L480.4,231.5L479,234L478.3,237.1L476.6,239.4L474.7,241.1L472.9,238.5L470.5,236.1L469,233.3L470.5,231.2L472.3,229.8L471.9,227.6L469,226.6L465.5,227.2L462.7,229L460.5,231.9L461.3,233.7L462.7,235.4L464.8,238.3L466.9,241.1L467.6,244.2L468.1,245.1L466.2,242.5L463.4,240.4L460.5,239.7L457.7,238.3L454.2,237.1L450.6,236.6L447.8,236.1L449.2,237.5L447,236L444.5,234.5L441,233.2L437.5,232L440.5,229L440.8,227.5L439,226.8L436.5,227.5L435,229L435.5,231.2L434.2,231.8L432.5,232.2L431,230L429.8,228.2L428,227.8L426,229L424,230.8L423.5,231.2L422,230.5L421.5,228.5L420.5,226.5L419.5,224.5L418,223L415.5,223.5L412.5,224L409.5,224.5L407.5,226L406,228.5L407,230L408.5,231.5L410,233L411.5,234.2L410.5,235.5L410.8,237.5L411.2,239.5L413,240.2L415,240.5L417.5,240L419,239.5L419,241.5L417.5,242.2L415,242.5L413.5,243.5L412.5,244.5L413.5,246L413,247.5L414,249.5L413.5,251.5L412.8,253.5L411.8,253L410.5,252L409.5,250L408.5,248L407.2,246L406,244.2L406.8,242.5L406.5,240.5L405.8,238.5L404.2,238.8L404,238.8L403,237.8L403,236.2L401.5,236.2L399.8,235L398.2,233.5L396.5,231.5L395,230L391.3,229L388.9,228L385.3,227.5L381.8,228.5L379,230.4L377.1,232.5L375.4,234.2L373.3,235.3L370.5,236L369,238.2L366.2,237.5Z" fill="#fee8c8"/>
<path d="M342.8,236.8L346.4,235.1L351.3,235.6L356.3,236L361.3,236.8L366.2,237.5L369,238.2L368.3,240.3L365.5,242.1L363.4,244.5L362,247.4L359.8,250.2L357,253L353.5,253.8L350.6,254.5L349.2,253.5L346.4,252.3L343.1,252.6L342.6,249.5L343.1,246L343.5,241.7L343.1,238.9Z" fill="#fdd49e"/>
<path d="M346.4,238.2L348.8,238.9L348.5,241.7L347.8,244.5L347.8,248.1L347.1,250.9L346.4,252.3" fill="none"/>
<path d="M377.1,232.5L379,230.4L381.8,228.5L385.3,227.5L388.9,228L391.3,229L390.7,231.1L388.9,231.8L389.6,234.2L391.7,236.8L394.5,239.6L397.4,241.7L400.2,243.1L402.1,244.5L400.9,245.5L398.8,244.5L398.1,246.7L398.8,249.2L396.7,250.9L395.5,248.8L396,246.4L393.8,244.1L391,241.7L388.2,238.9L385.6,236L383.2,233.9L380.4,233.2L378,234.2Z" fill="#fdd49e"/>
<path d="M390.3,250.2L393.1,249.5L396,250.6L395.3,253L392.4,252.3L390.3,251.6Z" fill="#fdd49e"/>
<path d="M380.8,242.1L382.8,241.7L383.2,244.5L382.5,247L381.1,246.7Z" fill="#fdd49e"/>
<path d="M381.1,236.8L382.5,236.5L382.5,239.6L381.5,240.3Z" fill="#fee8c8"/>
<path d="M352.2,197.9L354.2,197.3L356.8,197.7L357.3,198.8L355.9,199.6L358,200.4L358.7,202.1L357.8,203.8L359.2,205.4L360.9,207.1L362.6,209.2L364.2,210.8L366.3,212.3L365.9,214.2L364.7,215.4L362.2,216.2L359.2,216.8L356.8,217.1L354.2,217.9L351.8,218.8L353.4,217.1L355.9,215.8L354.7,215L353,214.6L354.2,212.9L355.5,211.2L354.2,210.4L354.7,208.8L355.9,207.9L354.7,206.7L353.4,205L352.6,202.9L351.8,200.4Z" fill="#fee8c8"/>
<path d="M343.4,214.2L344.2,211.2L345.5,208.8L347.6,206.7L349.7,205.8L351.3,206.7L351.8,208.8L350.5,210.8L349.2,212.5L347.2,213.8L345.1,214.6Z" fill="#fee8c8"/>
<path d="M348,207.1L349.7,208.3L351.2,208.2" fill="none"/>
<path d="M406,228.5L407.5,226L409.5,224.5L412.5,224L415.5,223.5L418,223L419.5,224.5L420.5,226.5L421.5,228.5L422,230.5L423.5,231.2L423,232.5L421.5,233.5L419,234L416,234.2L413.5,234L411.5,234.2L410,233L408.5,231.5L407,230Z" fill="#fdd49e"/>
<path d="M411.5,234.2L413.5,234L416,234.2L419,234L421.5,233.5L422,235L421.2,237L420.5,238.5L419.5,239.5L417.5,240L415,240.5L413,240.2L411.2,239.5L410.8,237.5L410.5,235.5Z" fill="#fdd49e"/>
<path d="M396.5,231.5L398.5,230.8L401,231.2L403,232L403.5,234L402.8,235.5L401.5,236.2L399.8,235L398.2,233.5Z" fill="#fdd49e"/>
<path d="M404.2,238.8L405.8,238.5L406.5,240.5L406.8,242.5L406,244.2L404.8,243.5L404.2,241.5Z" fill="#fdd49e"/>
<path d="M406.8,239.5L409,238.8L410.8,239.5L410.5,241.2L408.5,242L407,241.8Z" fill="#fdd49e"/>
<path d="M403,236.2L404.5,236.8L404.8,238.2L404,238.8L403,237.8Z" fill="#fdd49e"/>
<path d="M414,256L417,256.2L419.5,256.8L419,257.5L416,257.2L414.2,256.8Z" fill="#fee8c8"/>
<path d="M433.3,256.7L435.4,255.7L437.5,255.4L436.7,257.1L435,257.9L433.8,257.7Z" fill="#fdd49e"/>
<path d="M446.5,164.9L448.6,161.3L453.6,158.8L460.7,157.1L467.5,156.4L466.3,158.2L460.7,159.6L456.4,161.6L454.3,164.2L453.6,167L457.1,169.1L454.3,169.8L450.1,168.4L447.2,167Z" fill="#fee8c8"/>
<path d="M493.7,149.9L500.4,149.4L506.6,151.1L504.1,152.8L497.9,151.9Z" fill="#fee8c8"/>
<path d="M510.3,152.4L516.5,152.8L517.7,154.3L512.8,154.3Z" fill="#fee8c8"/>
<path d="M574.5,159.3L580.7,157.8L585.6,159.3L581.9,161L577,161Z" fill="#fee8c8"/>
<path d="M588.1,159.8L595.5,160.3L593,161.7Z" fill="#fee8c8"/>
<path d="M639.5,208L642.5,211.2L647,216.2L651.2,221.2L655,225L657,228L653.8,226.2L650,222L645.5,217L641.2,212Z" fill="#fee8c8"/>
<path d="M447.5,236.2L449.6,235.7L452.1,236.2L455,237.5L457.9,238.3L460.4,239.3L461.2,240.8L459.2,241.7L456.7,241.5L455,241.7L452.9,241.2L450.4,240.4L450,239.2L448.8,237.9Z" fill="#fdd49e"/>
<path d="M455,241.7L456.7,241.5L459.2,241.7L460.4,242.9L461.2,245L462.1,246.8L460.8,247.1L459.2,245.8L457.9,245.4L456.2,243.3Z" fill="#fdd49e"/>
<path d="M420,244.6L421.7,242.9L425,241.2L428.3,240.4L431.7,240L435.4,239.6L438.3,240.4L441.7,241.2L445,241.2L448.3,240.8L450.4,240.4L452.9,241.2L455,241.7L456.2,243.3L457.9,245.4L458.8,247.5L458.3,249.6L458.8,251.2L456.7,251.5L454.2,251.7L451.7,252.1L449.2,252.9L446.7,253.3L444.2,253.8L441.7,253.3L440.8,254.6L439.6,253.8L437.9,252.9L435,253.8L432.5,254.2L430,253.8L427.5,254.2L425.8,253.3L423.8,252.1L421.7,250.4L420.4,248.8L420,247.1Z" fill="#fdbb84"/>
<path d="M419,239.5L421.2,239L422.5,240.5L422,242L420,242.8L419,241.5Z" fill="#fdbb84"/>
<path d="M457,225.5L457,222L457,219.1L459.1,216.3L462.7,214.9L467.6,214.2L472.6,215.3L477.5,215.9L482.5,216.3L481.8,212L482.5,209.2L486.8,207.8L491.7,206.4L496.7,205.4L500.9,206.4L505.9,208.5L510.8,207.8L515.1,210.6L519.3,213.5L523.6,215.6L528.6,217.3L533.5,219.1L537.8,221" fill="none"/>
<path d="M384.6,204.6L386.2,204.2L386.8,205.4L385.4,206.2Z" fill="#fee8c8"/>
<path d="M382.9,196.7L383.8,193.3L385,190L384.6,186.7L385.8,184.2L389.2,180.8L391.7,177.5L392.5,175.4L395.8,173.8L399.2,172.5L401.7,173.3L402.9,175.8L403.8,178.8L405.8,180.8" fill="none"/>
<path d="M401.7,173.3L404.2,172.5L405.8,170.8L408.3,170.4L410.4,171.2L412.1,169" fill="none"/>
<path d="M410.4,171.2L412.1,173.8L412.9,176.2L414.2,179.2L415.4,182.1L417.1,185L419.6,187.5L418.3,189.6L417.1,191.7L416.2,193.8" fill="none"/>
<path d="M415,194.8L415.4,197.5L415,199.6L416.2,201.7L415.8,202.5L414.2,205.4L411.7,207.9L410,210" fill="none"/>
<path d="M408.3,199.8L411.7,200L415,199.6" fill="none"/>
<path d="M403.3,205L406.7,203.8L410.4,203.3L414.2,203.3L415.8,202.5" fill="none"/>
<path d="M402.9,206.2L405.8,207.1L408.3,207.7L410,210" fill="none"/>
<path d="M378.8,206.7L381.2,206.5" fill="none"/>
<path d="M406.2,236.5L407.7,236L408.5,237.1L407.9,238.3L406.7,238.5Z" fill="url(#hatch)" stroke="#c4c4c4" stroke-opacity="1" stroke-width="0.4"/>
<path d="M375.8,209.6L375,213.3L375.4,216.7L375,220.8L376.2,225L378.3,224.6L380.8,225L384.2,224.6L387.5,223.8L390.4,221.8L388.3,220.4L387.5,218.3L389.6,217.1L392.1,216.2L390.8,214.2L391.2,211.7L390.4,208.8" fill="none"/>
<path d="M406.7,207.9L408.3,209.6L409.2,212.5L410,215.8L410.4,217.9L409.2,220L406.2,220.4L403.3,220L400,219.6L397.5,218.3L395,217.1L392.1,216.2" fill="none"/>
<path d="M390.4,221.8L393.3,222.1L396.2,221.5L399.2,220.8L400,219.6" fill="none"/>
<path d="M399.2,220.8L399.2,222.5L401.7,222.9L405,222.1L407.9,221.2L409.2,220" fill="none"/>
<path d="M378.3,224.6L379.2,225.8L381.7,226.5L384.2,227.1L387.5,226.7L390.8,227.1L394.2,226.7L397.1,225.8L397.9,224.6L399.2,222.5" fill="none"/>
<path d="M407.9,221.2L409.2,222.9L408.3,225L406.7,226.7L404.2,227.9L400.8,228.8L398.3,228.3L397.1,227.1L397.1,225.8" fill="none"/>
<path d="M390.8,227.1L394.2,226.7L397.1,227.1L398.3,228.3L400.8,228.8L402.9,229.6L402.5,231.2L400,230.8L396.7,230.4L395.4,232.1" fill="none"/>
<path d="M402.9,229.6L406.2,228.8L407.5,230.8L409.6,232.1L411.2,233.3L410.4,235.8L409.2,237.9L408.5,237.1" fill="none"/>
<path d="M410.4,217.9L410,215.8L413.3,215.4L416.7,215.8L420,215.4L423.3,215.4L425,213.8L427.1,212.5L430,213.3L432.5,215.4L435,217.1L438.3,218.3L441.7,219.2L443.3,220.8L442.5,224.2L440.8,225.8L438.3,226.7L435.4,228.3L433.3,230" fill="none"/>
<path d="M425,213.8L426.2,211.7L425,209.2L422.9,206.7L421.2,204.6L418.3,203.8L415.8,202.9" fill="none"/>
<path d="M417.5,223.3L419.2,224.6L420.4,226.7L421.7,229.2L423.3,230.4L424.2,228.3L422.9,225.8L421.2,223.8L419.2,222.9" fill="none"/>
<path d="M378.8,227.9L380,229.2L383.3,228.3L387.5,227.5L390.8,227.1" fill="none"/>
<path d="M367.6,215.8L370.1,217.9L373,219.2L375.1,217.9L373.8,215.4L370.9,215" fill="none"/>
<path d="M375.9,226.7L376.8,229.2L376.3,231.7L378,233.8" fill="none"/>
<path d="M375.9,226.7L378,224.6L381.3,224.2L383.4,225.4L382.6,227.5L379.7,228.3L377.2,227.9" fill="none"/>
<path d="M349.7,256L353.3,256.8L357.5,256.4L359.2,258.5L360.1,262.8L358.2,264.9L354.7,266.7L351.1,269.1L347.6,271L344.8,272.7L343.3,274.8L341.2,276.2L338.4,276.6L334.8,276.6L336.3,274.8L338.8,272.4L341.2,269.1L341.9,265.6L344,262L346.9,258.8Z" fill="#ef6548"/>
<path d="M334.8,276.6L338.4,276.6L343.3,276.9L343.1,280.5L337,280.9L336.5,284L335.5,287.5L333.4,288.5L333.1,292.5L324.6,292.8L325.6,289.7L327.8,286.1L329.9,282.6L332,279.8Z" fill="url(#hatch)" stroke="#c4c4c4" stroke-opacity="1" stroke-width="0.4"/>
<path d="M359.2,258.5L363.2,255.7L368.1,254L373.1,252.8L377.3,252.1L380.9,251.7L380.5,255.7L379.9,259.9L381.6,262.8L384.1,265.6L385.1,269.1L384.4,273.4L384.1,277.6L385.1,281.9L387.3,284.7L389.4,287.1L385.1,290L379.5,294.2L372.8,298.9L369.5,297.5L363.2,292.5L356.1,287.1L349,281.9L343.3,278.1L343.3,274.8L344.8,272.7L347.6,271L351.1,269.1L354.7,266.7L358.2,264.9L360.1,262.8Z" fill="#fc8d59"/>
<path d="M380.9,251.7L385.1,251.4L386.6,254.3L385.6,257.1L387.3,259.9L388.7,262.8L386.6,264.2L385.1,267L384.1,265.6L381.6,262.8L379.9,259.9L380.5,255.7Z" fill="#fc8d59"/>
<path d="M385.1,267L386.6,264.2L388.7,262.8L392.9,263.5L397.2,264.9L401.4,267L405.7,268.4L407.8,264.9L412.1,263.5L416.3,264.2L418.1,266.3L418.7,278.3L419.1,292.5L419.1,296.8L417,297L407.1,291.8L397.9,287.5L394.3,289.7L389.4,287.1L387.3,284.7L385.1,281.9L384.1,277.6L384.4,273.4L385.1,269.1Z" fill="url(#hatch)" stroke="#c4c4c4" stroke-opacity="1" stroke-width="0.4"/>
<path d="M418,266L424,266.6L430,267L436,268L440,268.6L441,274L439.6,272L439,271L440,275L442,281L444,287L446,291.4L419,292L419,279Z" fill="#fc8d59"/>
<path d="M324.6,292.8L333.1,292.5L333.4,288.5L335.5,287.5L336.5,284L337,280.9L343.1,280.5L343.3,278.1L349,281.9L349.7,286.8L350.1,296.8L350.7,307.4L346.2,308.1L340.5,308.4L336.3,309.5L333.4,308.1L329.9,306.7L327,306L324.9,305.5L326.3,301.7L326.1,297.5L325.2,294.6Z" fill="#d7301f"/>
<path d="M349,281.9L356.1,287.1L363.2,292.5L369.5,297.5L372.8,298.9L372.4,304.5L371.7,308.1L368.1,309.2L363.9,309.8L360.3,310.9L357.5,313L355.4,315.2L353.3,317.7L351.1,319.7L348.3,320.8L345.9,322L344.5,320.6L342.6,317.7L339.8,315.9L337.7,314.5L336.3,312.3L336.3,309.5L340.5,308.4L346.2,308.1L350.7,307.4L350.1,296.8L349.7,286.8Z" fill="#d7301f"/>
<path d="M372.8,298.9L379.5,294.2L385.1,290L389.4,287.1L394.3,289.7L397.9,287.5L397.5,292.5L397.9,298.2L396.5,303.1L395.1,307.4L395.8,310.9L396.9,313.8L394.3,314.5L390.8,313.8L385.8,314L381.6,314.5L377.3,313.5L373.8,312.3L371.7,314.5L369.5,315.9L367.4,314.5L365.3,312.3L363.9,309.8L368.1,309.2L371.7,308.1L372.4,304.5Z" fill="#b30000"/>
<path d="M397.9,287.5L407.1,291.8L417,297L419.1,296.8L416.7,301L415.9,306L414.2,309.5L413.5,313L414.9,317.3L416.3,320.1L414.2,322.3L411.3,324.4L407.8,326.5L404.3,327.9L400.7,329.3L397.9,328.6L397.2,324.4L398.6,320.8L397.5,317.7L396.9,313.8L395.8,310.9L395.1,307.4L396.5,303.1L397.9,298.2L397.5,292.5Z" fill="#b30000"/>
<path d="M324.9,305.5L327,306L329.9,306.7L333.4,308.1L336.3,309.5L335.9,309.2L335.6,310.6L335.9,313.1L336.6,315.2L336.6,316.9L334.9,315.9L332.1,316.2L329.2,316.6L325.7,317.6L323.5,309.5L323.8,307.4Z" fill="#b30000"/>
<path d="M325.4,313.8L328.2,313.5L331.4,313.8L331.2,314.4L328.2,314.3L325.6,314.5" fill="none"/>
<path d="M325.7,317.6L327.8,317.3L330.3,317.6L331.7,318.7L330.3,319.8L329.6,321.2L327.8,319.4Z" fill="#b30000"/>
<path d="M329.2,316.6L332.1,316.2L334.9,315.9L336.6,316.9L339.1,316.6L341.6,316.9L342.6,318.7L343.5,320.8L344.1,321.2L343.7,323.3L344.4,325.4L343.9,328.2L343.5,328.6L342.6,327.9L341.6,328.9L340.2,327.2L339.1,326.5L338.8,325.4L338.4,323.3L336.6,322.2L334.5,322.9L333.1,324.7L332.4,325.8L331,323.3L329.6,321.2L330.3,319.8L331.7,318.7L330.3,317.6Z" fill="#b30000"/>
<path d="M333.1,324.7L334.5,322.9L336.6,322.2L338.4,323.3L338.8,325.4L338.1,327.5L337.4,329.6L336.3,330.7L335.6,329.6L333.5,328.2L332.4,325.8Z" fill="#b30000"/>
<path d="M337.4,329.6L338.1,327.5L339.1,326.5L340.2,327.2L341.6,328.9L342.6,327.9L343.5,328.6L343.9,328.2L345.1,331.1L345.8,333.9L345.5,337.1L342.6,335.6L340.2,333.5L337.7,331.4L336.3,330.7Z" fill="#b30000"/>
<path d="M344.1,321.2L345.8,322.6L347.9,321.9L350.4,321.2L352.2,322.9L354.6,323.3L356.1,323.6L355.9,326.8L355.3,330.3L356.1,333.2L356.4,335.6L353.2,335.3L350.4,335.6L347.6,336.3L345.5,337.1L345.8,333.9L345.1,331.1L343.9,328.2L344.4,325.4L343.7,323.3Z" fill="#b30000"/>
<path d="M356.1,323.6L356.4,320.5L358.9,320.3L361.7,320.1L363.5,320.5L363.8,323.3L364.2,326.8L364.5,330.3L364.9,332.8L363.1,334.6L360.3,335.6L358.2,336.3L356.4,335.6L356.1,333.2L355.3,330.3L355.9,326.8Z" fill="#b30000"/>
<path d="M363.5,320.5L364.5,321.2L365.2,322.6L365.6,325.4L365.9,328.9L366.1,331.8L365.9,333.2L364.9,332.8L364.5,330.3L364.2,326.8L363.8,323.3Z" fill="#b30000"/>
<path d="M365.2,322.6L364.5,321.2L365.6,319.8L367.3,318L369.1,316.9L370.9,317.3L371.2,319.8L370.9,322.6L369.8,325.4L369.5,328.9L369.1,332.1L368.8,332.5L365.9,333.2L366.1,331.8L365.9,328.9L365.6,325.4Z" fill="#b30000"/>
<path d="M350.8,320.5L351.8,317.6L353.6,315.2L356.1,313.4L358.5,311.3L361,309.9L363.1,310.2L364.2,312.4L365.6,314.8L367.3,316.6L369.1,316.9L367.3,318L365.6,319.8L364.5,321.2L363.5,320.5L361.7,320.1L358.9,320.3L356.4,320.5L356.1,323.6L354.6,323.3L352.2,322.9L351.1,321.9Z" fill="#7f0000"/>
<path d="M370,317L371,315L374,313L378,314L383,314.6L388,314L393,315L396,316L395,320L393,324L391,328L388,331L385,332L383,334L382,335L379,337L375,337L372.4,334.6L370,333L370,327L371,323L372,319Z" fill="#d7301f"/>
<path d="M396,316L398,321L397,325L398,329L399,334L402,338L404,341L401,342L396,342.6L390,343L387,342.6L385.6,340L383.6,336L383,334L385,332L388,331L391,328L393,324L395,320Z" fill="#b30000"/>
<path d="M398,329L401,328L405,326.6L409,324.6L413,323L416,320L419.2,322.9L419.6,324.6L420.8,326.7L422.5,328.8L424.2,330.8L425.8,332.9L427.1,335L428.8,336.2L422,336L418,336.6L414,335L410,336L406,337L404,340L402,338L399,334Z" fill="#b30000"/>
<path d="M419,292L446,291.4L446.6,295L447.9,298.3L449.2,301.7L448.3,303.3L447.1,305.8L446.7,308.8L446.2,311.2L445.8,312.1L444.6,314.6L443.3,317.5L442.1,320L441.2,321.7L440,320L439.2,317.1L437.5,317.5L437.1,319.2L435.8,320.8L433.8,322.1L431.2,322.9L428.3,323.3L425.8,323.8L423.3,322.9L420.8,321.7L419.2,322.9L417,320L414,315L415,310L418,305L419,297Z" fill="#b30000"/>
<path d="M419.2,322.9L420.8,321.7L423.3,322.9L425.8,323.8L428.3,323.3L431.2,322.9L433.8,322.1L435.8,320.8L437.1,319.2L437.5,317.5L439.2,317.1L440,320L441.2,321.7L440.4,324.2L439.6,327.1L440.8,329.2L442.5,331.7L443.8,333.8L442.9,335.4L441.7,336.7L440,337.9L437.5,338.3L435,338.3L432.9,337.5L430.8,336.7L428.8,336.2L427.1,335L425.8,332.9L424.2,330.8L422.5,328.8L420.8,326.7L419.6,324.6Z" fill="#7f0000"/>
<path d="M448.3,303.3L449.6,302.1L450.8,304.2L452.5,306.7L454.6,309.2L456.7,311.7L458.8,313.8L460.4,315.8L459.2,316.5L457.5,314.6L455.8,312.9L453.3,311.2L450.8,310.8L448.3,311.2L446.2,311.2L446.7,308.8L447.1,305.8Z" fill="url(#hatch)" stroke="#c4c4c4" stroke-opacity="1" stroke-width="0.4"/>
<path d="M442.1,320L443.3,317.5L444.6,314.6L445.8,312.1L448.3,311.2L450.8,310.8L453.3,311.2L455.8,312.9L457.5,314.6L458.8,316.2L458.3,318.3L459.6,320L460.8,320.4L462.5,322.5L465,324.2L468.3,326.2L472.5,328.2L470.4,330.8L468.3,332.9L465.8,334.6L462.9,335.8L460,336.7L457.1,337.9L454.2,338.8L451.7,338.3L449.2,337.1L447.1,335.8L445.4,334.6L443.8,333.8L442.5,331.7L440.8,329.2L439.6,327.1L440.4,324.2L441.2,321.7Z" fill="#d7301f"/>
<path d="M458.8,316.2L460.4,315.8L461.7,317.1L461.2,318.8L460.8,320.4L459.6,320L458.3,318.3Z" fill="#d7301f"/>
<path d="M460.8,320.4L461.2,318.8L462.9,320L465.8,320.8L470,320L474.2,318.8L477.5,317.9L480,317.5L480,320L479.2,323.3L477.5,327.1L475.4,330.8L472.9,334.6L470,337.9L467.1,341.2L464.2,344.2L462.9,345L461.6,350L459,353L458,348L458.3,345L458.2,342.5L458.8,340L460,336.7L462.9,335.8L465.8,334.6L468.3,332.9L470.4,330.8L472.5,328.2L468.3,326.2L465,324.2L462.5,322.5Z" fill="#7f0000"/>
<path d="M443.8,333.8L445.4,334.6L447.1,335.8L449.2,337.1L451.7,338.3L454.2,338.8L457.1,337.9L460,336.7L458.8,340L458.2,342.5L458.3,345L458,348L459,353L456,357L453,360L450,358L446,355L442,352.6L441,349L443,345L442.1,341.7L442.9,338.3L441.7,336.7L442.9,335.4Z" fill="#ef6548"/>
<path d="M435,338.3L437.5,338.3L440,337.9L441.7,336.7L442.9,338.3L442.1,341.7L442.5,345L441,349L437,350L433.6,350.6L432.4,347L434,343Z" fill="#d7301f"/>
<path d="M385.6,343L389,343L389,345.4L385.6,345.4Z" fill="url(#hatch)" stroke="#c4c4c4" stroke-opacity="1" stroke-width="0.4"/>
<path d="M385.6,346L389,345.4L389.6,343L396,342.6L396.4,346L399,349L398,353L395,355L392,358L389,357L387,354L384.4,350.6L383.6,348Z" fill="#fc8d59"/>
<path d="M396,342.6L401,342L404,341L406,337L408,339L407,344L405.6,349L404,353L401,356L398,359L395,361L392.4,360.6L392,358L395,355L398,353L399,349L396.4,346Z" fill="#d7301f"/>
<path d="M406,337L410,336L414,335L418,336.6L422,336L426,337L430,338.6L433.6,339L434,343L432.4,347L432,352L431,355L432,359L430.4,358L431,362L430.4,366L430,371L429,375L429.6,380L429,384L427,382L423,380L418,379L415,378L413.6,373L413,367.6L408,368L404,369L401,367L397,365L392,364.4L392.4,360.6L395,361L398,359L401,356L404,353L405.6,349L407,344L408,339Z" fill="#d7301f"/>
<path d="M431,352L433.6,351L434.4,355L433.6,359L431.6,359L431,355Z" fill="#b30000"/>
<path d="M392,364.4L397,365L401,367L404,369L408,368L413,367.6L413.6,373L415,378L418,379L417,382L413.6,383L412.4,388L413.6,393L414,395L408,394.4L400,394L393,393.6L390,393L389.6,389L391,384L393,379L394,374L393,369Z" fill="#7f0000"/>
<path d="M390,359L391.6,359.6L392,363L390.4,362.4Z" fill="#7f0000"/>
<path d="M413.6,383L417,382L418,379L423,380L427,382L429,384L429.6,380L429,375L430,371L435,372L438.4,374L439,379L438,384L435,387L432,389L428,391L424,394L420,395.6L416,395L413.6,393L412.4,388Z" fill="#b30000"/>
<path d="M433.6,350.6L437,350L441,349L442,352.6L446,355L450,358L453,360L452.4,365L453.6,370L454.4,375L455.6,376.4L451,378.4L446,379.6L442,379L439,375L435,372L430,371L430.4,366L431,362L430.4,358L432,359L431,355L432,352Z" fill="#ef6548"/>
<path d="M441,379.6L446,379.6L451,378.4L455.6,376.4L456.4,382L455.6,387L452.4,391L448,395L444,399L441.6,402.4L442.4,407L442,411L439,413.6L436.4,415L435.6,419L434.4,416L434,410L434.4,406L437,402.4L438.4,398L437.6,393L435,387L438,384L439,379Z" fill="#b30000"/>
<path d="M439,375L440.4,379L441.6,383L443,387L444,390L442.4,391.6L441,388L439.6,384L438.4,380Z" fill="#ef6548"/>
<path d="M424,394L428,391L432,389L435,387L437.6,393L438.4,398L437,402.4L434.4,406L431,407L427,405L424,401L421.6,397Z" fill="#d7301f"/>
<path d="M411,396.4L416,395L420,395.6L421.6,397L424,401L427,405L431,407L429,410L425,412L421,415L418,416L415,415L412.4,418L409.6,419L409,414L409.6,408L410.4,402Z" fill="#d7301f"/>
<path d="M390,393L393,393.6L400,394L408,394.4L414,395L420,394.4L420,395.6L416,395L411,396.4L410.4,402L409.6,408L409,414L409.6,419L408,423L405,425L402,424L400,421L398,416L396,410L394,404L392,399L390.4,395.6Z" fill="#d7301f"/>
<path d="M402,424L405,425L408,423L409.6,419L412.4,418L415,415L418,416L421,415L425,412L429,410L431,407L434.4,406L434,410L434.4,416L435.6,419L437,419L435.6,422L433,426L430,430L427,433L423,435.6L418,437L413,437.6L408,439L405,438.4L403.6,435L403,430L401.6,427Z" fill="#b30000"/>
<path d="M424,425.6L426,424L427.6,425.6L426.8,428L424.4,428.4Z" fill="#b30000"/>
<path d="M432,417L433.6,416.4L434.4,418.4L433.2,420L432,419Z" fill="#b30000"/>
<path d="M475.6,380.4L477.6,384L478,389L476.4,394L474.4,400L472,406L469.6,411L467,415L464,415.6L462,413L461,408L462,403L463.6,398L464,393L466,390L469.6,388L472.4,385L474.4,382Z" fill="#d7301f"/>
<path d="M462.4,379L463.6,378.8L464,380L462.8,380.4Z" fill="#d7301f"/>
<path d="M305.3,304.4L305.6,304.1L305.9,304.4L305.6,304.7Z" fill="#7f0000"/>
<path d="M307.2,305.4L307.5,305.1L307.8,305.4L307.5,305.7Z" fill="#7f0000"/>
<path d="M310.3,306.2L310.6,305.9L310.9,306.2L310.6,306.5Z" fill="#7f0000"/>
<path d="M308.8,309.4L309.1,309.1L309.4,309.4L309.1,309.7Z" fill="#7f0000"/>
<path d="M307.1,310L307.4,309.7L307.7,310L307.4,310.3Z" fill="#7f0000"/>
<path d="M377.6,347.4L378,347L378.4,347.4L378,347.8Z" fill="#d7301f"/>
<path d="M463.6,380.5L464,380.1L464.4,380.5L464,380.9Z" fill="#d7301f"/>
<path d="M492.6,401.6L493,401.2L493.4,401.6L493,402Z" fill="#fdbb84"/>
<path d="M489.9,361L490.4,360.5L490.9,361L490.4,361.5Z" fill="#fdd49e"/>
<path d="M537.8,221L537.1,224.1L534.2,226.2L532.1,229L529.3,230.5L530.7,233.3L531.4,236.6L530.7,237.1L528.6,239.7L525,241.4L521.5,242.5L521,244.2L523.6,246.8L522.2,248.9L523.6,250.3L527,252L530,254L533.6,255.6L536,258L535,261L537,264L540,267L542.4,269.6L545,270.4L549,272.4L554,274.4L559,276L560.4,276.4L562,275.6L565,275L569,275.6L572,273L576,272.4L579.6,275L581.7,276.2L582.9,278.3L583.8,280.8L582.9,283.3L583.8,285.4L585.4,287.1L587.1,288.8L588.8,290.4L590,292.5L591.7,292.1L593.3,290.4L595.4,289.2L597.9,288.8L600.4,287.9L602.1,289.2L603.3,290.4L605,291.7L606.2,292.5L608.3,293.3L610.4,292.9L611.7,293.3L612.1,295L612.9,295L613.3,293.3L615,292.5L618.3,291.7L621.7,290.4L625,288.8L627.5,286.7L629.6,284.2L631.2,281.7L632.5,278.3L633.3,275L633.8,271.7L632.4,269L630,266L627,263L624,259L625,255.6L626.4,252.4L624,251L621,250L617,249L615.6,247L619,245L622,242.4L624,243L626.4,244L629,241.6L632,239L635,237L638,236L637,233L638,229L637.6,224L635,223L630,221L624,219L619,217L615,214.4L611,211.6L607,210L602,211L599,214L598,218.4L599.6,221L603,222.4L607,225L604,227L599,228L595.6,231L593,235L588,238L583,239L577,237L571,236L564,235.6L558,233L552,230L547,226L543,222.4L540,219Z" fill="#fdbb84"/>
<path d="M540,219L545,217L551,217.6L557,214.4L559,213.6L564,215.6L571,217.6L578,218.4L585,219.6L592,219L598,218.4L599.6,221L603,222.4L607,225L604,227L599,228L595.6,231L593,235L588,238L583,239L577,237L571,236L564,235.6L558,233L552,230L547,226L543,222.4Z" fill="#fdd49e"/>
<path d="M609.6,297.9L611.2,296.8L613.3,296.7L614.6,297.5L614.2,299.2L612.5,300.8L610.8,301L609.6,299.6Z" fill="#fdbb84"/>
<path d="M634,284L636,282.4L637,286L635.6,290.4L634,289Z" fill="url(#hatch)" stroke="#c4c4c4" stroke-opacity="1" stroke-width="0.4"/>
<path d="M626.2,241.2L629.5,238.8L633,237L638,236.2L637.5,238.8L635.5,242L634.5,245L633,248L630.5,249.5L628.8,247L630,243.8Z" fill="url(#hatch)" stroke="#c4c4c4" stroke-opacity="1" stroke-width="0.4"/>
<path d="M634.5,248.8L637.5,247.5L640.5,250L643,253.8L643.8,257.5L641.2,259.5L638,258L635.8,254.5L634.5,251.2Z" fill="#fee8c8"/>
<path d="M655.5,231.2L659.5,233L663.8,233.8L666.2,235.5L664.5,238L660,238.8L657,237L655.5,233.8Z" fill="#fee8c8"/>
<path d="M660,240.5L663,242.5L665,246.2L667,251.2L668,255.5L665,258.8L661.2,260.5L657.5,262L653.8,263.8L651.2,266.2L648.8,267.5L647,264.5L648,261.2L652,259.5L655.5,257.5L658,254.5L660,250L660.5,245Z" fill="#fee8c8"/>
<path d="M478.3,251.4L479.5,250L477.5,246.3L479.5,242.5L477.1,241.4L474.7,241.1L476.6,239.4L478.3,237.1L479,234L480.4,231.5L482.5,230.5L485.3,231.5L488.9,233.3L492.4,235.1L496,237.1L499.5,238.5L503,240L506.6,241.8L509.4,242.5L511.6,241.1L513.7,241.8L512.3,243.6L510.1,245.1L509.1,247.5L509.4,250.3L507.3,251.3L504.5,250.7L502.3,252.7L499.5,254.5L496.7,256L494.5,253.8L491.7,251.7L488.2,250.3L484.6,249.6L481.1,249.9Z" fill="url(#hatch)" stroke="#c4c4c4" stroke-opacity="1" stroke-width="0.4"/>
<path d="M476.6,239.4L481.1,238.3L484.6,240.4L488.2,242.5L492.4,245.1L496.7,247.5L500.9,249.6L504.5,250.7" fill="none"/>
<path d="M509.1,247.5L510.1,245.1L512.3,243.6L515.1,243.9L517.9,243.2L521,244.2L523.9,247.5L523.6,250.4L521.5,251.3L519.2,251.9L516.5,251.3L515.4,249.3L513.7,250.3L511.6,249.6L509.4,250.3Z" fill="#fdbb84"/>
<path d="M511.6,241.1L514.4,238.5L517.9,237.5L522.2,236.6L526.4,236.1L530.7,237.1" fill="none"/>
<path d="M458.8,247.5L457.9,245.4L459.2,245.8L460.8,247.1L462.1,246.8L463.8,246.2L465.4,247.1L466.7,248.8L467.9,247.9L468.3,247.1L469.2,249.2L471.2,250.8L473.8,252.1L476.2,252.3L478.3,251.5L480.8,250L484.2,249.2L488.2,250.3L491.7,251.7L494.5,253.8L496.7,256L496,259.5L496.4,263L497.4,265.9L498.4,268.7L500.2,270.8L501.6,273.7L500.9,277.2L501.6,280.8L499.5,282.2L496,281.5L491.7,280.8L488.9,282.2L486,279.3L482.5,276.5L479,273.7L475.4,270.8L472.6,268L470.5,269.4L469.2,271.7L469.6,270L469.2,267.5L467.9,265L466.7,262.9L465,261.2L463.8,259.2L463.3,257.1L461.7,255.4L460,253.3L458.8,251.2L458.3,249.6Z" fill="#fdbb84"/>
<path d="M459.2,241.7L461.2,240.8L463.3,240L465.4,240.8L467.1,242.5L469.2,243.8L468.8,245.8L467.9,247.9L466.7,248.8L465.4,247.1L463.8,246.2L462.1,246.8L461.2,245L460.4,242.9Z" fill="#fee8c8"/>
<path d="M458.8,251.2L456.7,251.5L454.2,251.7L452.9,253.8L451.7,256.2L450,258.8L448.8,260.8L449.2,262.9L451.2,264.2L454.2,265.4L456.7,266.7L459.2,268.3L461.7,270.4L463.8,272.1L466.2,272.5L468.3,272.1L469.6,270L469.2,267.5L467.9,265L466.7,262.9L465,261.2L463.8,259.2L463.3,257.1L461.7,255.4L460,253.3Z" fill="#fc8d59"/>
<path d="M440.8,254.6L441.7,253.3L444.2,253.8L446.7,253.3L449.2,252.9L451.7,252.1L454.2,251.7L452.9,253.8L451.7,256.2L450,258.8L448.8,260.8L446.7,262.1L444.6,263.3L442.5,263.8L441.5,262.5L440.8,260L441.2,257.5Z" fill="url(#hatch)" stroke="#c4c4c4" stroke-opacity="1" stroke-width="0.4"/>
<path d="M440.8,266.7L442.5,263.8L444.6,263.3L446.7,262.1L448.8,260.8L449.2,262.9L447.5,264.2L445.4,265L446.7,266.7L445,268.3L443.3,270.4L441.7,272.1L440.4,271.7L440.4,270Z" fill="#fdbb84"/>
<path d="M439,264.6L440.4,264.2L440.8,266.7L440.4,270L439.8,271.7L439.2,269.2Z" fill="#fdd49e"/>
<path d="M440,261.7L441.5,262.5L440.8,264.2L440,264.3Z" fill="#fdd49e"/>
<path d="M442,276L445,274L449,272L453,269.4L458,270.6L464,274L469,277.4L472,278.6L475,282L477,285L477.6,288L480,288.6L482,292L485,294.6L488,294L488,296L484,298L481,300L475,302L470,304L465,303.4L461,305L459,302L457,298L454,294L451.6,290L449,286L446.4,282L444,279Z" fill="url(#hatch)" stroke="#c4c4c4" stroke-opacity="1" stroke-width="0.4"/>
<path d="M469,274L471.6,274L472.4,277L470,277.4Z" fill="#fdd49e"/>
<path d="M477,284.6L478.6,284L479,287L477.6,288Z" fill="#fee8c8"/>
<path d="M480,288.6L483,289L487,288L489,285L490,287.4L489,291L488,294L485,294.6L482,292Z" fill="#fee8c8"/>
<path d="M481,300L484,298L488,296L488,294L489,291L491,292L493,292L496,291L497.6,293L495.6,296L493.6,299L491,302L488,304L485,305L483,304Z" fill="#fdd49e"/>
<path d="M461,305L465,303.4L470,304L475,302L481,300L483,304L482,307L478,309L473,311.4L468,314L464,316L462,313L461,309Z" fill="#d7301f"/>
<path d="M501,282.4L503,279L502,275L500,271L504,269.6L508,267.6L511.6,265L514,262L516,258.4L517.2,254L520,251.6L522,249.6L527,252L530,254L533.6,255.6L536,258L535,261L537,264L540,267L542.4,269.6L541.6,271L543,273L547,275L552,277L557,278.4L560,279L560.4,276.4L562,275.6L565,275L569,275.6L572,273L576,272.4L579.6,275L578,278L575.6,281L574,284L573,287L572,290L570.4,288L570,285L571,282.4L569,281.6L566,280L561.6,280L561.6,283L563,287L564,290L562,289.6L560,291L557,294L554,297.6L551,301.6L548.4,306L547,311L546.4,316L545.6,321L544,325.6L542.4,327.6L540.4,325L538,320L535.6,314L533,308L531,302L529,296L528,293L525,294L522,292L520,289L517,286L515,284L510,282.4L505,282Z" fill="#d7301f"/>
<path d="M530,254L527,258L525.6,262L524.4,266L526,269L523,273L519,276L518,280L521,282.4L522.4,285L520,287" fill="none"/>
<path d="M496,257.9L498.2,255.7L501.9,254.3L506.4,252.7L510.3,251.7L513.3,249.7L514.7,249L516.2,251.3L519.2,251.7L522.2,250.7L520.8,252.7L518.5,254.3L517.8,257.9L516.2,261.8L514.7,264.7L512.5,267L509.4,270L505,271.1L501.2,271.8L498.9,270.7L497.5,267.7L496.7,264L495.7,260.9Z" fill="#b30000"/>
<path d="M541,271.5L543.2,270L547.8,271.5L553,273.8L557.5,275.2L560.5,276L560.5,279.8L556.8,279.3L552.2,278.2L547.8,276.3L543.2,274.5L541.3,273.3Z" fill="#ef6548"/>
<path d="M561.6,280L566,280L569,281.6L571,282.4L570,285L570.4,288L572,290L571,291.6L569,289L567.6,291L565,290L563,287L561.6,283Z" fill="#ef6548"/>
<path d="M547,324L549,323L550.4,326L551,330L549,333L547,331L546.4,327Z" fill="#fdbb84"/>
<path d="M575.8,279.2L577.5,277.1L579.6,275.4L581.7,276.2L582.9,278.3L583.8,280.8L582.9,283.3L583.8,285.4L585.4,287.1L587.1,288.8L588.8,290.4L590,292.5L590.4,294.2L588.8,295.4L586.8,296.5L585.4,297.9L584.6,300L585,302.1L585.4,304.2L585.8,306.2L586.8,308.8L587.9,311.2L589.2,314.2L590,317.1L590.4,320L589,320L588.3,316.7L587.5,313.3L586.2,310.4L585,307.5L584.2,305L582.1,306.2L580,307.3L578.3,306.7L577.9,304.6L577.1,302.1L575.8,299.6L574.6,297.1L573.3,294.6L572.9,292.1L572.3,290L572.9,287.9L573.8,285.4L574.6,282.5Z" fill="#fc8d59"/>
<path d="M585.4,297.9L586.8,296.5L588.8,295.4L590.4,294.2L591.2,296.5L592.1,298.8L592.5,300.8L593.3,302.5L595,301.7L597.1,301.2L598.8,300.8L600,302.1L601.2,304.2L602.5,306.2L603.8,308.8L604.2,311.2L602.9,311.7L600.8,311.7L598.8,312.5L597.9,314.2L598.3,316.2L597.1,315.4L595.4,315.8L593.8,315.4L592.9,313.8L592.1,315L591.5,317.1L591.8,320L592.4,323L594,327L596.4,330L599,332L598,334L595,332L592.4,329L590.4,325L589,320L588.3,316.7L587.5,313.3L586.2,310.4L585,307.5L585.4,304.2L585,302.1L584.6,300Z" fill="#fdbb84"/>
<path d="M590.4,294.2L591.7,292.1L593.3,290.4L594.6,291.7L595.8,293.3L597.9,294.2L600,295L601.2,296.5L600,297.9L599.6,298.8L601.2,300L602.9,302.1L604.6,304.2L606.2,306.2L607.9,308.3L608.8,310.8L608.3,312.1L606.7,311.7L605.4,312.5L604.2,311.2L603.8,308.8L602.5,306.2L601.2,304.2L600,302.1L598.8,300.8L597.1,301.2L595,301.7L593.3,302.5L592.5,300.8L592.1,298.8L591.2,296.5Z" fill="#ef6548"/>
<path d="M593.3,290.4L595.4,289.2L597.9,288.8L600.4,287.9L602.1,289.2L603.3,290.4L605,291.7L606.2,292.5L605,293.8L603.8,295L602.9,296.7L603.3,298.8L605,300.8L607.1,303.3L609.2,305.8L611.2,308.3L612.5,310.8L613.3,313.3L613.3,316.2L612.5,318.8L611.2,320L610,321L608.3,320.8L607.1,317.9L608.5,316.7L608.8,314.2L608.3,312.1L608.8,310.8L607.9,308.3L606.2,306.2L604.6,304.2L602.9,302.1L601.2,300L599.6,298.8L600,297.9L601.2,296.5L600,295L597.9,294.2L595.8,293.3L594.6,291.7Z" fill="#fdbb84"/>
<path d="M597.9,314.2L598.8,312.5L600.8,311.7L602.9,311.7L604.2,311.2L605.4,312.5L606.7,311.7L608.3,312.1L608.8,314.2L608.5,316.7L607.1,317.9L605,319.2L602.9,320L600,320L598.8,318.3L598.3,316.2Z" fill="#ef6548"/>
<path d="M595,332L598,334L600,337L601.6,341L602.4,345L601,346L598,343L596,339L594.4,335Z" fill="#fdd49e"/>
<path d="M582.4,335.8L586.1,334.6L591,338.3L595.9,343.2L600.9,348.2L604.6,353.1L607.1,358.1L607.1,362.3L604.1,361.8L599.6,358.1L594.7,351.9L590.3,345.7L586.1,340.8Z" fill="#fdbb84"/>
<path d="M606.6,364.7L610.8,363.7L616.9,365.5L623.1,367.2L628.1,369.7L625.6,371.6L619.4,370.4L613.2,369.2L608.3,367.9Z" fill="#fdbb84"/>
<path d="M614.5,345.7L618.2,344L623.1,345.7L628.1,343.2L633,339.5L635.5,342L636.2,346.9L634.7,351.9L631.8,355.6L629.3,359.3L624.3,358.1L619.4,356.3L615.7,353.1L614.5,349.4Z" fill="#fdbb84"/>
<path d="M618.2,344L623.1,340.8L627.3,337.1L630.5,332.1L633.7,330.9L636.7,333.3L637.2,337.1L634.7,338.3L633,339.5L628.1,343.2L623.1,345.7Z" fill="#fdd49e"/>
<path d="M637.9,348.2L641.6,346.4L646.6,345L651,344.5L650.3,346.4L645.3,348.2L642.9,350.6L645.3,354.3L644.1,358.1L646.1,361.8L643.6,363L641.6,359.3L639.7,355.6L638.7,360.5L636.7,358.1L637.2,353.1Z" fill="#fdbb84"/>
<path d="M631.3,371.1L635.5,370.7L635.7,372.6L631.8,373.1Z" fill="#fdbb84"/>
<path d="M637.9,370.4L644.1,369.9L644.6,371.9L638.4,372.4Z" fill="#fdbb84"/>
<path d="M646.6,373.6L650.3,371.6L651.5,373.6L648.6,375.6Z" fill="#fdbb84"/>
<path d="M650.3,371.6L655.2,370.4L654.5,372.6L651.5,373.6Z" fill="#ef6548"/>
<path d="M657,344.5L658.9,344L659.4,348.2L657.7,349.4Z" fill="#fdbb84"/>
<path d="M654,357.3L663.9,356.8L664.4,358.8L654.5,358.8Z" fill="#fdbb84"/>
<path d="M664.4,351.4L667.6,349.9L671.3,350.6L673.3,353.9L677.5,354.8L682.4,353.1L687.3,355.6L686.1,372.9L682.4,371.6L678.7,367.9L675,364.7L671.3,361.3L668.8,358.1L667.6,354.8Z" fill="#fdbb84"/>
<path d="M687.3,355.6L692.3,357.3L697.2,359.3L702.2,361.8L704.6,364.7L702.2,366.7L699.7,367.9L702.2,371.6L705.9,374.1L708.8,376.1L704.6,375.3L699.7,372.9L694.8,371.6L691,372.9L686.1,372.9Z" fill="#ef6548"/>
<path d="M704.6,363.7L708.3,363L712,360.5L714.5,358.1L713.3,356.3L711.3,359.3L708.3,361.3L705.4,362.3Z" fill="#ef6548"/>
<path d="M719.5,363L721.2,364.7L722.7,367.2L721.2,366.7Z" fill="#fdbb84"/>
<path d="M728.1,369.2L731.8,372.1L734.3,375.3L731.8,374.1Z" fill="#fdbb84"/>
<path d="M637.2,301.2L640.4,300L642.9,304.9L642.1,311.1L644.1,314.8L646.6,317.3L644.1,318.5L641.1,316.1L639.2,311.1L637.2,306.2Z" fill="#fdbb84"/>
<path d="M643.6,319.8L650.3,320.3L650.3,324.7L645.3,324.2Z" fill="#fdbb84"/>
<path d="M647.8,325.9L652.8,324.7L654.5,328.4L653.5,332.6L650.3,334.1L647.8,330.9Z" fill="#fdbb84"/>
<path d="M632.3,325.9L637.2,320.3L637.9,321.2L633.2,327.2Z" fill="#fdbb84"/>
<path d="M614.3,437.2L616.1,433L617.8,428.1L617.3,421.9L616.8,416.9L619.3,410.8L620.3,406.6L624.7,404.6L630.9,402.1L637.1,399.6L642,394.7L645.7,391L651.9,386.8L656.8,384.8L660.5,381.9L665.5,378.6L670.4,379.9L675.3,380.4L674.1,383.6L677.1,387.3L681.5,392.2L684,394.7L685.2,391L686.5,386.1L688.4,379.9L690.2,377.4L691.9,381.1L693.4,387.3L695.1,393.5L698.8,399.6L701.8,405.8L705,412L706.2,416.9L705.7,423.1L702.5,429.3L698.8,434.2L695.1,438.7L690.2,442.9L686.5,446.1L681.5,448.6L677.8,450.3L674.1,449.5L670.4,450.3L666.7,449.1L664.7,445.3L663.7,440.4L664.7,436.7L661.8,439.2L659.3,438.7L658.1,434.7L655.6,431.8L650.6,431.3L644.5,432.3L638.3,433.7L632.1,436.2L627.2,437.9L622.2,440.4L617.3,440.4L614.8,439.2Z" fill="#fee8c8"/>
<path d="M667.2,457L671.6,455.2L676.6,456L675.3,459.4L672.1,461.9L668.7,462.6L667.2,460.2Z" fill="#fee8c8"/>
<path d="M738.8,439.7L740.8,439.2L741.3,442.9L743.3,446.1L747,447.8L745.8,450.3L742,452L738.3,455.2L734.6,457L732.9,455.2L735.4,451.5L737.8,447.8L738.8,444.1Z" fill="#fee8c8"/>
<path d="M728.5,455.2L730.4,456.5L727.2,459.4L722.3,462.6L716.1,466.3L709.9,469.3L706.2,470L705,468.3L708.7,465.8L714.9,462.6L721,458.9L726,456Z" fill="#fee8c8"/>
<path d="M734.6,401.6L736.4,400.9L740.3,406.6L738.8,407.5Z" fill="url(#hatch)" stroke="#c4c4c4" stroke-opacity="1" stroke-width="0.4"/>
<path d="M743.3,387.3L744.5,386.8L745.3,391.7L744,391.7Z" fill="#fdbb84"/>
<path d="M766.7,394.7L769.2,393.5L770,395.2L767.5,396.4Z" fill="#fdbb84"/>
<path d="M770.5,392.2L773.4,391L773.7,392L770.9,393.2Z" fill="#fdbb84"/>
</g>
<!--MAPEND-->
<g id="legend">
<rect x="127.5" y="537.5" width="47.8" height="11" rx="1" fill="url(#hatch)" stroke="#cfcfcf" stroke-width="1"/>
<line x1="151.5" y1="534" x2="151.5" y2="537" stroke="#cfcfcf" stroke-width="1"/>
<rect x="195" y="537.5" width="58.5" height="11" fill="#fff7ec"/>
<rect x="253.5" y="537.5" width="58.5" height="11" fill="#fee8c8"/>
<rect x="312" y="537.5" width="58.5" height="11" fill="#fdd49e"/>
<rect x="370.5" y="537.5" width="58.5" height="11" fill="#fdbb84"/>
<rect x="429" y="537.5" width="58.5" height="11" fill="#fc8d59"/>
<rect x="487.5" y="537.5" width="58.5" height="11" fill="#ef6548"/>
<rect x="546" y="537.5" width="58.5" height="11" fill="#d7301f"/>
<rect x="604.5" y="537.5" width="58.5" height="11" fill="#b30000"/>
<path d="M663,537.5H716L722,543L716,548.5H663Z" fill="#7f0000"/>
<path d="M195,537.5H716L722,543L716,548.5H195Z" fill="none" stroke="#cfcfcf" stroke-width="1"/>
<g stroke="#000" stroke-opacity="0.32" stroke-width="0.8">
<line x1="195" y1="534" x2="195" y2="548.5"/>
<line x1="253.5" y1="534" x2="253.5" y2="548.5"/>
<line x1="312" y1="534" x2="312" y2="548.5"/>
<line x1="370.5" y1="534" x2="370.5" y2="548.5"/>
<line x1="429" y1="534" x2="429" y2="548.5"/>
<line x1="487.5" y1="534" x2="487.5" y2="548.5"/>
<line x1="546" y1="534" x2="546" y2="548.5"/>
<line x1="604.5" y1="534" x2="604.5" y2="548.5"/>
<line x1="663" y1="534" x2="663" y2="548.5"/>
</g>
</g>
</svg>
<h1 id="title"><span id="t1">Reduction in Human Development Index when adjusting for</span><br><span id="t2">inequalities, 2023</span></h1>
<p id="sub"><span id="s1">The Human Development Index (HDI) is a summary measure of key dimensions of human development: a long and healthy</span><br><span id="s2">life, a good education, and a decent standard of living. The Inequality-adjusted HDI (IHDI) is adjusted for inequalities in</span><br><span id="s3">these dimensions. The indicator below is the percentage difference between both values.</span></p>
<div id="logo"><span id="l1">Our World</span><br><span id="l2">in Data</span><div class="bar"></div></div>
<div class="leg" style="left:111.4px">No data</div>
<div class="leg" style="left:155.6px">0%</div>
<div class="leg" style="left:214.1px">5%</div>
<div class="leg" style="left:272.6px">10%</div>
<div class="leg" style="left:331.1px">15%</div>
<div class="leg" style="left:389.6px">20%</div>
<div class="leg" style="left:448.1px">25%</div>
<div class="leg" style="left:506.6px">30%</div>
<div class="leg" style="left:565.1px">35%</div>
<div class="leg" style="left:623.6px">40%</div>
<div id="foot-l"><b id="f1">Data source:</b> <span id="f2">UNDP, Human Development Report (2025)</span></div>
<div id="foot-r"><span id="f3">OurWorldinData.org/human-development-index | CC BY</span></div>
</body>
</html>
